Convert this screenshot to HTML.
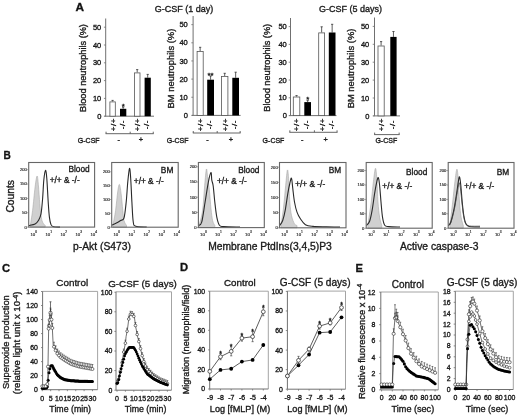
<!DOCTYPE html>
<html><head><meta charset="utf-8"><style>
html,body{margin:0;padding:0;background:#fff;}
body{width:520px;height:417px;overflow:hidden;font-family:"Liberation Sans",sans-serif;}
svg{display:block;filter:blur(0.3px);}
text{font-family:"Liberation Sans",sans-serif;stroke:#1a1a1a;stroke-width:0.34px;}
text.thin{stroke:#333;stroke-width:0.18px;}
</style></head><body>
<svg width="520" height="417" viewBox="0 0 520 417" font-family="Liberation Sans, sans-serif">
<rect x="0" y="0" width="520" height="417" fill="#fff"/>
<text transform="translate(75.4,11.3) scale(1.0,1)" font-size="11.8" font-weight="bold" fill="#111">A</text>
<text transform="translate(3.6,158.6) scale(0.86,1)" font-size="11.8" font-weight="bold" fill="#111">B</text>
<text transform="translate(2.0,271.5) scale(0.95,1)" font-size="11.8" font-weight="bold" fill="#111">C</text>
<text transform="translate(179.9,271.2) scale(0.95,1)" font-size="11.8" font-weight="bold" fill="#111">D</text>
<text transform="translate(355.4,271.5) scale(0.95,1)" font-size="11.8" font-weight="bold" fill="#111">E</text>
<text x="184.00" y="11.80" font-size="9.0" text-anchor="middle" fill="#1a1a1a" >G-CSF (1 day)</text>
<text x="350.40" y="12.00" font-size="9.0" text-anchor="middle" fill="#1a1a1a" >G-CSF (5 days)</text>
<line x1="105.70" y1="18.50" x2="105.70" y2="116.20" stroke="#707070" stroke-width="1"/>
<line x1="104.50" y1="116.20" x2="154.00" y2="116.20" stroke="#707070" stroke-width="1"/>
<line x1="103.90" y1="116.20" x2="105.70" y2="116.20" stroke="#707070" stroke-width="0.8"/>
<text x="101.30" y="118.80" font-size="7.5" text-anchor="end" fill="#1a1a1a" >0</text>
<line x1="103.90" y1="98.40" x2="105.70" y2="98.40" stroke="#707070" stroke-width="0.8"/>
<text x="101.30" y="101.00" font-size="7.5" text-anchor="end" fill="#1a1a1a" >10</text>
<line x1="103.90" y1="80.60" x2="105.70" y2="80.60" stroke="#707070" stroke-width="0.8"/>
<text x="101.30" y="83.20" font-size="7.5" text-anchor="end" fill="#1a1a1a" >20</text>
<line x1="103.90" y1="62.80" x2="105.70" y2="62.80" stroke="#707070" stroke-width="0.8"/>
<text x="101.30" y="65.40" font-size="7.5" text-anchor="end" fill="#1a1a1a" >30</text>
<line x1="103.90" y1="45.00" x2="105.70" y2="45.00" stroke="#707070" stroke-width="0.8"/>
<text x="101.30" y="47.60" font-size="7.5" text-anchor="end" fill="#1a1a1a" >40</text>
<line x1="103.90" y1="27.20" x2="105.70" y2="27.20" stroke="#707070" stroke-width="0.8"/>
<text x="101.30" y="29.80" font-size="7.5" text-anchor="end" fill="#1a1a1a" >50</text>
<text transform="translate(85.60,68.00) rotate(-90)" font-size="9.2" text-anchor="middle" fill="#1a1a1a">Blood neutrophils (%)</text>
<line x1="112.60" y1="101.50" x2="112.60" y2="100.40" stroke="#333" stroke-width="0.8"/>
<line x1="111.50" y1="100.40" x2="113.70" y2="100.40" stroke="#333" stroke-width="0.8"/>
<rect x="109.90" y="101.90" width="5.40" height="14.30" fill="#fff" stroke="#555" stroke-width="0.8"/>
<line x1="123.15" y1="108.80" x2="123.15" y2="107.20" stroke="#333" stroke-width="0.8"/>
<line x1="122.05" y1="107.20" x2="124.25" y2="107.20" stroke="#333" stroke-width="0.8"/>
<rect x="120.00" y="108.80" width="6.30" height="7.40" fill="#000"/>
<text x="123.15" y="108.80" font-size="7.8" text-anchor="middle" fill="#111" >*</text>
<line x1="137.20" y1="72.50" x2="137.20" y2="69.60" stroke="#333" stroke-width="0.8"/>
<line x1="136.10" y1="69.60" x2="138.30" y2="69.60" stroke="#333" stroke-width="0.8"/>
<rect x="134.40" y="72.90" width="5.60" height="43.30" fill="#fff" stroke="#555" stroke-width="0.8"/>
<line x1="147.70" y1="77.70" x2="147.70" y2="74.40" stroke="#333" stroke-width="0.8"/>
<line x1="146.60" y1="74.40" x2="148.80" y2="74.40" stroke="#333" stroke-width="0.8"/>
<rect x="144.60" y="77.70" width="6.20" height="38.50" fill="#000"/>
<text transform="translate(115.50,124.70) rotate(-90)" font-size="8.0" letter-spacing="0.5" text-anchor="middle" fill="#1a1a1a">+/+</text>
<text transform="translate(124.65,124.70) rotate(-90)" font-size="8.0" letter-spacing="0.5" text-anchor="middle" fill="#1a1a1a">-/-</text>
<text transform="translate(140.10,124.70) rotate(-90)" font-size="8.0" letter-spacing="0.5" text-anchor="middle" fill="#1a1a1a">+/+</text>
<text transform="translate(149.20,124.70) rotate(-90)" font-size="8.0" letter-spacing="0.5" text-anchor="middle" fill="#1a1a1a">-/-</text>
<line x1="105.60" y1="133.70" x2="153.70" y2="133.70" stroke="#555" stroke-width="0.9"/>
<line x1="106.05" y1="133.70" x2="106.05" y2="131.70" stroke="#555" stroke-width="0.9"/>
<line x1="153.25" y1="133.70" x2="153.25" y2="131.70" stroke="#555" stroke-width="0.9"/>
<line x1="130.20" y1="133.70" x2="130.20" y2="131.70" stroke="#555" stroke-width="0.9"/>
<text x="99.60" y="142.70" font-size="7.0" text-anchor="end" fill="#1a1a1a" >G-CSF</text>
<text x="118.70" y="142.40" font-size="7.4" text-anchor="middle" fill="#1a1a1a" >-</text>
<text x="140.80" y="142.40" font-size="7.4" text-anchor="middle" fill="#1a1a1a" >+</text>
<line x1="193.10" y1="16.00" x2="193.10" y2="115.40" stroke="#707070" stroke-width="1"/>
<line x1="191.90" y1="115.40" x2="240.60" y2="115.40" stroke="#707070" stroke-width="1"/>
<line x1="191.30" y1="115.40" x2="193.10" y2="115.40" stroke="#707070" stroke-width="0.8"/>
<text x="187.80" y="118.00" font-size="7.5" text-anchor="end" fill="#1a1a1a" >0</text>
<line x1="191.30" y1="97.25" x2="193.10" y2="97.25" stroke="#707070" stroke-width="0.8"/>
<text x="187.80" y="99.85" font-size="7.5" text-anchor="end" fill="#1a1a1a" >10</text>
<line x1="191.30" y1="79.10" x2="193.10" y2="79.10" stroke="#707070" stroke-width="0.8"/>
<text x="187.80" y="81.70" font-size="7.5" text-anchor="end" fill="#1a1a1a" >20</text>
<line x1="191.30" y1="60.95" x2="193.10" y2="60.95" stroke="#707070" stroke-width="0.8"/>
<text x="187.80" y="63.55" font-size="7.5" text-anchor="end" fill="#1a1a1a" >30</text>
<line x1="191.30" y1="42.80" x2="193.10" y2="42.80" stroke="#707070" stroke-width="0.8"/>
<text x="187.80" y="45.40" font-size="7.5" text-anchor="end" fill="#1a1a1a" >40</text>
<line x1="191.30" y1="24.65" x2="193.10" y2="24.65" stroke="#707070" stroke-width="0.8"/>
<text x="187.80" y="27.25" font-size="7.5" text-anchor="end" fill="#1a1a1a" >50</text>
<text transform="translate(173.80,68.60) rotate(-90)" font-size="9.4" text-anchor="middle" fill="#1a1a1a">BM neutrophils (%)</text>
<line x1="200.15" y1="51.10" x2="200.15" y2="47.30" stroke="#333" stroke-width="0.8"/>
<line x1="199.05" y1="47.30" x2="201.25" y2="47.30" stroke="#333" stroke-width="0.8"/>
<rect x="197.10" y="51.50" width="6.10" height="63.90" fill="#fff" stroke="#555" stroke-width="0.8"/>
<line x1="210.60" y1="79.70" x2="210.60" y2="76.00" stroke="#333" stroke-width="0.8"/>
<line x1="209.50" y1="76.00" x2="211.70" y2="76.00" stroke="#333" stroke-width="0.8"/>
<rect x="207.20" y="79.70" width="6.80" height="35.70" fill="#000"/>
<text x="210.60" y="77.60" font-size="7.8" text-anchor="middle" fill="#111" >**</text>
<line x1="224.70" y1="76.00" x2="224.70" y2="73.30" stroke="#333" stroke-width="0.8"/>
<line x1="223.60" y1="73.30" x2="225.80" y2="73.30" stroke="#333" stroke-width="0.8"/>
<rect x="221.50" y="76.40" width="6.40" height="39.00" fill="#fff" stroke="#555" stroke-width="0.8"/>
<line x1="235.65" y1="77.80" x2="235.65" y2="72.20" stroke="#333" stroke-width="0.8"/>
<line x1="234.55" y1="72.20" x2="236.75" y2="72.20" stroke="#333" stroke-width="0.8"/>
<rect x="232.30" y="77.80" width="6.70" height="37.60" fill="#000"/>
<text transform="translate(203.05,124.70) rotate(-90)" font-size="8.0" letter-spacing="0.5" text-anchor="middle" fill="#1a1a1a">+/+</text>
<text transform="translate(212.10,124.70) rotate(-90)" font-size="8.0" letter-spacing="0.5" text-anchor="middle" fill="#1a1a1a">-/-</text>
<text transform="translate(227.60,124.70) rotate(-90)" font-size="8.0" letter-spacing="0.5" text-anchor="middle" fill="#1a1a1a">+/+</text>
<text transform="translate(237.15,124.70) rotate(-90)" font-size="8.0" letter-spacing="0.5" text-anchor="middle" fill="#1a1a1a">-/-</text>
<line x1="192.80" y1="133.00" x2="240.60" y2="133.00" stroke="#555" stroke-width="0.9"/>
<line x1="193.25" y1="133.00" x2="193.25" y2="131.00" stroke="#555" stroke-width="0.9"/>
<line x1="240.15" y1="133.00" x2="240.15" y2="131.00" stroke="#555" stroke-width="0.9"/>
<line x1="217.20" y1="133.00" x2="217.20" y2="131.00" stroke="#555" stroke-width="0.9"/>
<text x="188.50" y="142.70" font-size="7.0" text-anchor="end" fill="#1a1a1a" >G-CSF</text>
<text x="207.60" y="142.40" font-size="7.4" text-anchor="middle" fill="#1a1a1a" >-</text>
<text x="230.90" y="142.40" font-size="7.4" text-anchor="middle" fill="#1a1a1a" >+</text>
<line x1="290.50" y1="18.00" x2="290.50" y2="115.60" stroke="#707070" stroke-width="1"/>
<line x1="289.30" y1="115.60" x2="336.50" y2="115.60" stroke="#707070" stroke-width="1"/>
<line x1="288.70" y1="115.60" x2="290.50" y2="115.60" stroke="#707070" stroke-width="0.8"/>
<text x="286.80" y="118.20" font-size="7.5" text-anchor="end" fill="#1a1a1a" >0</text>
<line x1="288.70" y1="97.80" x2="290.50" y2="97.80" stroke="#707070" stroke-width="0.8"/>
<text x="286.80" y="100.40" font-size="7.5" text-anchor="end" fill="#1a1a1a" >10</text>
<line x1="288.70" y1="80.00" x2="290.50" y2="80.00" stroke="#707070" stroke-width="0.8"/>
<text x="286.80" y="82.60" font-size="7.5" text-anchor="end" fill="#1a1a1a" >20</text>
<line x1="288.70" y1="62.20" x2="290.50" y2="62.20" stroke="#707070" stroke-width="0.8"/>
<text x="286.80" y="64.80" font-size="7.5" text-anchor="end" fill="#1a1a1a" >30</text>
<line x1="288.70" y1="44.40" x2="290.50" y2="44.40" stroke="#707070" stroke-width="0.8"/>
<text x="286.80" y="47.00" font-size="7.5" text-anchor="end" fill="#1a1a1a" >40</text>
<line x1="288.70" y1="26.60" x2="290.50" y2="26.60" stroke="#707070" stroke-width="0.8"/>
<text x="286.80" y="29.20" font-size="7.5" text-anchor="end" fill="#1a1a1a" >50</text>
<text transform="translate(270.30,67.80) rotate(-90)" font-size="9.2" text-anchor="middle" fill="#1a1a1a">Blood neutrophils (%)</text>
<line x1="296.55" y1="96.60" x2="296.55" y2="95.60" stroke="#333" stroke-width="0.8"/>
<line x1="295.45" y1="95.60" x2="297.65" y2="95.60" stroke="#333" stroke-width="0.8"/>
<rect x="293.30" y="97.00" width="6.50" height="18.60" fill="#fff" stroke="#555" stroke-width="0.8"/>
<line x1="307.65" y1="102.10" x2="307.65" y2="100.60" stroke="#333" stroke-width="0.8"/>
<line x1="306.55" y1="100.60" x2="308.75" y2="100.60" stroke="#333" stroke-width="0.8"/>
<rect x="304.30" y="102.10" width="6.70" height="13.50" fill="#000"/>
<text x="307.65" y="102.20" font-size="7.8" text-anchor="middle" fill="#111" >*</text>
<line x1="321.65" y1="32.50" x2="321.65" y2="26.80" stroke="#333" stroke-width="0.8"/>
<line x1="320.55" y1="26.80" x2="322.75" y2="26.80" stroke="#333" stroke-width="0.8"/>
<rect x="318.70" y="32.90" width="5.90" height="82.70" fill="#fff" stroke="#555" stroke-width="0.8"/>
<line x1="332.15" y1="32.50" x2="332.15" y2="24.30" stroke="#333" stroke-width="0.8"/>
<line x1="331.05" y1="24.30" x2="333.25" y2="24.30" stroke="#333" stroke-width="0.8"/>
<rect x="328.80" y="32.50" width="6.70" height="83.10" fill="#000"/>
<text transform="translate(299.45,124.70) rotate(-90)" font-size="8.0" letter-spacing="0.5" text-anchor="middle" fill="#1a1a1a">+/+</text>
<text transform="translate(309.15,124.70) rotate(-90)" font-size="8.0" letter-spacing="0.5" text-anchor="middle" fill="#1a1a1a">-/-</text>
<text transform="translate(324.55,124.70) rotate(-90)" font-size="8.0" letter-spacing="0.5" text-anchor="middle" fill="#1a1a1a">+/+</text>
<text transform="translate(333.65,124.70) rotate(-90)" font-size="8.0" letter-spacing="0.5" text-anchor="middle" fill="#1a1a1a">-/-</text>
<line x1="289.40" y1="132.30" x2="337.50" y2="132.30" stroke="#555" stroke-width="0.9"/>
<line x1="289.85" y1="132.30" x2="289.85" y2="130.30" stroke="#555" stroke-width="0.9"/>
<line x1="337.05" y1="132.30" x2="337.05" y2="130.30" stroke="#555" stroke-width="0.9"/>
<line x1="314.40" y1="132.30" x2="314.40" y2="130.30" stroke="#555" stroke-width="0.9"/>
<text x="284.40" y="142.70" font-size="7.0" text-anchor="end" fill="#1a1a1a" >G-CSF</text>
<text x="302.30" y="142.40" font-size="7.4" text-anchor="middle" fill="#1a1a1a" >-</text>
<text x="325.60" y="142.40" font-size="7.4" text-anchor="middle" fill="#1a1a1a" >+</text>
<line x1="374.50" y1="17.50" x2="374.50" y2="115.90" stroke="#707070" stroke-width="1"/>
<line x1="373.30" y1="115.90" x2="400.00" y2="115.90" stroke="#707070" stroke-width="1"/>
<line x1="372.70" y1="115.90" x2="374.50" y2="115.90" stroke="#707070" stroke-width="0.8"/>
<text x="369.30" y="118.50" font-size="7.5" text-anchor="end" fill="#1a1a1a" >0</text>
<line x1="372.70" y1="98.00" x2="374.50" y2="98.00" stroke="#707070" stroke-width="0.8"/>
<text x="369.30" y="100.60" font-size="7.5" text-anchor="end" fill="#1a1a1a" >10</text>
<line x1="372.70" y1="80.10" x2="374.50" y2="80.10" stroke="#707070" stroke-width="0.8"/>
<text x="369.30" y="82.70" font-size="7.5" text-anchor="end" fill="#1a1a1a" >20</text>
<line x1="372.70" y1="62.20" x2="374.50" y2="62.20" stroke="#707070" stroke-width="0.8"/>
<text x="369.30" y="64.80" font-size="7.5" text-anchor="end" fill="#1a1a1a" >30</text>
<line x1="372.70" y1="44.30" x2="374.50" y2="44.30" stroke="#707070" stroke-width="0.8"/>
<text x="369.30" y="46.90" font-size="7.5" text-anchor="end" fill="#1a1a1a" >40</text>
<line x1="372.70" y1="26.40" x2="374.50" y2="26.40" stroke="#707070" stroke-width="0.8"/>
<text x="369.30" y="29.00" font-size="7.5" text-anchor="end" fill="#1a1a1a" >50</text>
<text transform="translate(354.00,68.50) rotate(-90)" font-size="9.4" text-anchor="middle" fill="#1a1a1a">BM neutrophils (%)</text>
<line x1="381.10" y1="45.60" x2="381.10" y2="41.60" stroke="#333" stroke-width="0.8"/>
<line x1="380.00" y1="41.60" x2="382.20" y2="41.60" stroke="#333" stroke-width="0.8"/>
<rect x="378.00" y="46.00" width="6.20" height="69.90" fill="#fff" stroke="#555" stroke-width="0.8"/>
<line x1="393.45" y1="36.90" x2="393.45" y2="31.50" stroke="#333" stroke-width="0.8"/>
<line x1="392.35" y1="31.50" x2="394.55" y2="31.50" stroke="#333" stroke-width="0.8"/>
<rect x="390.30" y="36.90" width="6.30" height="79.00" fill="#000"/>
<text transform="translate(384.00,124.70) rotate(-90)" font-size="8.0" letter-spacing="0.5" text-anchor="middle" fill="#1a1a1a">+/+</text>
<text transform="translate(394.95,124.70) rotate(-90)" font-size="8.0" letter-spacing="0.5" text-anchor="middle" fill="#1a1a1a">-/-</text>
<line x1="374.20" y1="134.60" x2="399.60" y2="134.60" stroke="#555" stroke-width="0.9"/>
<line x1="374.65" y1="134.60" x2="374.65" y2="132.60" stroke="#555" stroke-width="0.9"/>
<line x1="399.15" y1="134.60" x2="399.15" y2="132.60" stroke="#555" stroke-width="0.9"/>
<text x="386.30" y="142.70" font-size="7.0" text-anchor="middle" fill="#1a1a1a" >G-CSF</text>
<text transform="translate(13.50,196.30) rotate(-90)" font-size="10.3" text-anchor="middle" fill="#1a1a1a">Counts</text>
<path d="M30.40,225.00 C30.77,222.57 31.82,216.75 32.60,210.40 C33.38,204.05 34.35,192.63 35.10,186.90 C35.85,181.17 36.55,176.28 37.10,176.00 C37.65,175.72 37.95,180.58 38.40,185.20 C38.85,189.82 39.37,198.65 39.80,203.70 C40.23,208.75 40.53,212.42 41.00,215.50 C41.47,218.58 41.90,220.53 42.60,222.20 C43.30,223.87 44.77,224.95 45.20,225.50 L45.20,227.10 L30.40,227.10 Z" fill="#d0d0d0" stroke="#a8a8a8" stroke-width="0.6"/>
<path d="M28.90,225.50 C29.93,225.23 33.52,224.73 35.10,223.90 C36.68,223.07 37.42,222.18 38.40,220.50 C39.38,218.82 40.30,217.43 41.00,213.80 C41.70,210.17 42.13,204.30 42.60,198.70 C43.07,193.10 43.32,184.92 43.80,180.20 C44.28,175.48 45.00,170.68 45.50,170.40 C46.00,170.12 46.35,173.23 46.80,178.50 C47.25,183.77 47.77,195.57 48.20,202.00 C48.63,208.43 48.93,213.33 49.40,217.10 C49.87,220.87 50.30,222.98 51.00,224.60 C51.70,226.22 52.10,226.38 53.60,226.80 C55.10,227.22 58.93,227.05 60.00,227.10" fill="none" stroke="#2a2a2a" stroke-width="1.1"/>
<rect x="28.70" y="162.50" width="65.90" height="64.60" fill="none" stroke="#666" stroke-width="1.1"/>
<line x1="27.10" y1="227.10" x2="28.70" y2="227.10" stroke="#777" stroke-width="0.7"/>
<text x="26.90" y="228.50" font-size="4.1" text-anchor="end" fill="#333" class="thin">0</text>
<line x1="27.10" y1="212.75" x2="28.70" y2="212.75" stroke="#777" stroke-width="0.7"/>
<text x="26.90" y="214.15" font-size="4.1" text-anchor="end" fill="#333" class="thin">50</text>
<line x1="27.10" y1="198.40" x2="28.70" y2="198.40" stroke="#777" stroke-width="0.7"/>
<text x="26.90" y="199.80" font-size="4.1" text-anchor="end" fill="#333" class="thin">100</text>
<line x1="27.10" y1="184.05" x2="28.70" y2="184.05" stroke="#777" stroke-width="0.7"/>
<text x="26.90" y="185.45" font-size="4.1" text-anchor="end" fill="#333" class="thin">150</text>
<line x1="27.10" y1="169.70" x2="28.70" y2="169.70" stroke="#777" stroke-width="0.7"/>
<text x="26.90" y="171.10" font-size="4.1" text-anchor="end" fill="#333" class="thin">200</text>
<text class="thin" x="30.40" y="236.00" font-size="4.4" fill="#333">10<tspan dy="-2.8" font-size="3.3">0</tspan></text>
<text class="thin" x="45.40" y="236.00" font-size="4.4" fill="#333">10<tspan dy="-2.8" font-size="3.3">1</tspan></text>
<text class="thin" x="60.40" y="236.00" font-size="4.4" fill="#333">10<tspan dy="-2.8" font-size="3.3">2</tspan></text>
<text class="thin" x="75.40" y="236.00" font-size="4.4" fill="#333">10<tspan dy="-2.8" font-size="3.3">3</tspan></text>
<text class="thin" x="90.40" y="236.00" font-size="4.4" fill="#333">10<tspan dy="-2.8" font-size="3.3">4</tspan></text>
<text x="89.70" y="172.10" font-size="8.3" text-anchor="end" fill="#1a1a1a" >Blood</text>
<text x="49.70" y="183.20" font-size="8.3" text-anchor="start" fill="#1a1a1a" >+/+ &amp; -/-</text>
<path d="M113.00,225.00 C113.43,222.57 114.82,215.92 115.60,210.40 C116.38,204.88 117.07,196.23 117.70,191.90 C118.33,187.57 118.83,184.12 119.40,184.40 C119.97,184.68 120.53,189.27 121.10,193.60 C121.67,197.93 122.32,205.92 122.80,210.40 C123.28,214.88 123.38,217.98 124.00,220.50 C124.62,223.02 126.08,224.67 126.50,225.50 L126.50,227.20 L113.00,227.20 Z" fill="#d0d0d0" stroke="#a8a8a8" stroke-width="0.6"/>
<path d="M111.90,225.00 C112.65,224.67 114.95,223.75 116.40,223.00 C117.85,222.25 119.33,221.33 120.60,220.50 C121.87,219.67 123.07,221.08 124.00,218.00 C124.93,214.92 125.57,208.03 126.20,202.00 C126.83,195.97 127.25,187.40 127.80,181.80 C128.35,176.20 129.02,168.95 129.50,168.40 C129.98,167.85 130.30,172.90 130.70,178.50 C131.10,184.10 131.48,194.83 131.90,202.00 C132.32,209.17 132.57,217.45 133.20,221.50 C133.83,225.55 133.45,225.38 135.70,226.30 C137.95,227.22 144.87,226.88 146.70,227.00" fill="none" stroke="#2a2a2a" stroke-width="1.1"/>
<rect x="111.70" y="162.50" width="66.50" height="64.70" fill="none" stroke="#666" stroke-width="1.1"/>
<line x1="110.10" y1="227.20" x2="111.70" y2="227.20" stroke="#777" stroke-width="0.7"/>
<text x="109.90" y="228.60" font-size="4.1" text-anchor="end" fill="#333" class="thin">0</text>
<line x1="110.10" y1="213.35" x2="111.70" y2="213.35" stroke="#777" stroke-width="0.7"/>
<text x="109.90" y="214.75" font-size="4.1" text-anchor="end" fill="#333" class="thin">50</text>
<line x1="110.10" y1="199.50" x2="111.70" y2="199.50" stroke="#777" stroke-width="0.7"/>
<text x="109.90" y="200.90" font-size="4.1" text-anchor="end" fill="#333" class="thin">100</text>
<line x1="110.10" y1="185.65" x2="111.70" y2="185.65" stroke="#777" stroke-width="0.7"/>
<text x="109.90" y="187.05" font-size="4.1" text-anchor="end" fill="#333" class="thin">150</text>
<line x1="110.10" y1="171.80" x2="111.70" y2="171.80" stroke="#777" stroke-width="0.7"/>
<text x="109.90" y="173.20" font-size="4.1" text-anchor="end" fill="#333" class="thin">200</text>
<text class="thin" x="113.40" y="236.00" font-size="4.4" fill="#333">10<tspan dy="-2.8" font-size="3.3">0</tspan></text>
<text class="thin" x="128.40" y="236.00" font-size="4.4" fill="#333">10<tspan dy="-2.8" font-size="3.3">1</tspan></text>
<text class="thin" x="143.40" y="236.00" font-size="4.4" fill="#333">10<tspan dy="-2.8" font-size="3.3">2</tspan></text>
<text class="thin" x="158.40" y="236.00" font-size="4.4" fill="#333">10<tspan dy="-2.8" font-size="3.3">3</tspan></text>
<text class="thin" x="173.40" y="236.00" font-size="4.4" fill="#333">10<tspan dy="-2.8" font-size="3.3">4</tspan></text>
<text x="173.30" y="172.50" font-size="8.3" text-anchor="end" fill="#1a1a1a" >BM</text>
<text x="133.80" y="183.70" font-size="8.3" text-anchor="start" fill="#1a1a1a" >+/+ &amp; -/-</text>
<path d="M199.20,225.00 C199.77,222.57 201.68,217.03 202.60,210.40 C203.52,203.77 204.07,192.07 204.70,185.20 C205.33,178.33 205.92,170.60 206.40,169.20 C206.88,167.80 207.12,173.43 207.60,176.80 C208.08,180.17 208.73,184.08 209.30,189.40 C209.87,194.72 210.45,203.52 211.00,208.70 C211.55,213.88 211.97,217.70 212.60,220.50 C213.23,223.30 214.43,224.67 214.80,225.50 L214.80,227.60 L199.20,227.60 Z" fill="#d0d0d0" stroke="#a8a8a8" stroke-width="0.6"/>
<path d="M198.60,225.50 C199.12,224.95 200.62,226.12 201.70,222.20 C202.78,218.28 203.98,208.73 205.10,202.00 C206.22,195.27 207.42,186.70 208.40,181.80 C209.38,176.90 210.43,172.87 211.00,172.60 C211.57,172.33 211.43,177.97 211.80,180.20 C212.17,182.43 212.70,182.37 213.20,186.00 C213.70,189.63 214.20,196.82 214.80,202.00 C215.40,207.18 216.03,213.23 216.80,217.10 C217.57,220.97 218.27,223.62 219.40,225.20 C220.53,226.78 220.17,226.30 223.60,226.60 C227.03,226.90 237.27,226.93 240.00,227.00" fill="none" stroke="#2a2a2a" stroke-width="1.1"/>
<rect x="198.40" y="162.50" width="65.90" height="65.10" fill="none" stroke="#666" stroke-width="1.1"/>
<line x1="196.80" y1="227.60" x2="198.40" y2="227.60" stroke="#777" stroke-width="0.7"/>
<text x="196.60" y="229.00" font-size="4.1" text-anchor="end" fill="#333" class="thin">0</text>
<line x1="196.80" y1="212.40" x2="198.40" y2="212.40" stroke="#777" stroke-width="0.7"/>
<text x="196.60" y="213.80" font-size="4.1" text-anchor="end" fill="#333" class="thin">50</text>
<line x1="196.80" y1="197.20" x2="198.40" y2="197.20" stroke="#777" stroke-width="0.7"/>
<text x="196.60" y="198.60" font-size="4.1" text-anchor="end" fill="#333" class="thin">100</text>
<line x1="196.80" y1="182.00" x2="198.40" y2="182.00" stroke="#777" stroke-width="0.7"/>
<text x="196.60" y="183.40" font-size="4.1" text-anchor="end" fill="#333" class="thin">150</text>
<line x1="196.80" y1="166.80" x2="198.40" y2="166.80" stroke="#777" stroke-width="0.7"/>
<text x="196.60" y="168.20" font-size="4.1" text-anchor="end" fill="#333" class="thin">200</text>
<text class="thin" x="200.10" y="236.00" font-size="4.4" fill="#333">10<tspan dy="-2.8" font-size="3.3">0</tspan></text>
<text class="thin" x="215.10" y="236.00" font-size="4.4" fill="#333">10<tspan dy="-2.8" font-size="3.3">1</tspan></text>
<text class="thin" x="230.10" y="236.00" font-size="4.4" fill="#333">10<tspan dy="-2.8" font-size="3.3">2</tspan></text>
<text class="thin" x="245.10" y="236.00" font-size="4.4" fill="#333">10<tspan dy="-2.8" font-size="3.3">3</tspan></text>
<text class="thin" x="260.10" y="236.00" font-size="4.4" fill="#333">10<tspan dy="-2.8" font-size="3.3">4</tspan></text>
<text x="259.40" y="172.80" font-size="8.3" text-anchor="end" fill="#1a1a1a" >Blood</text>
<text x="216.90" y="183.70" font-size="8.3" text-anchor="start" fill="#1a1a1a" >+/+ &amp; -/-</text>
<path d="M281.00,225.00 C281.43,222.00 282.82,213.63 283.60,207.00 C284.38,200.37 285.07,191.35 285.70,185.20 C286.33,179.05 286.92,171.22 287.40,170.10 C287.88,168.98 288.20,173.18 288.60,178.50 C289.00,183.82 289.32,195.83 289.80,202.00 C290.28,208.17 290.72,211.85 291.50,215.50 C292.28,219.15 293.58,222.23 294.50,223.90 C295.42,225.57 296.58,225.23 297.00,225.50 L297.00,227.80 L281.00,227.80 Z" fill="#d0d0d0" stroke="#a8a8a8" stroke-width="0.6"/>
<path d="M279.70,225.50 C280.20,224.67 281.78,223.02 282.70,220.50 C283.62,217.98 284.35,214.88 285.20,210.40 C286.05,205.92 287.03,198.08 287.80,193.60 C288.57,189.12 289.18,186.07 289.80,183.50 C290.42,180.93 291.00,177.35 291.50,178.20 C292.00,179.05 292.30,184.63 292.80,188.60 C293.30,192.57 293.80,198.08 294.50,202.00 C295.20,205.92 296.02,209.30 297.00,212.10 C297.98,214.90 299.00,216.70 300.40,218.80 C301.80,220.90 303.30,223.43 305.40,224.70 C307.50,225.97 309.50,226.03 313.00,226.40 C316.50,226.77 321.90,226.78 326.40,226.90 C330.90,227.02 337.73,227.07 340.00,227.10" fill="none" stroke="#2a2a2a" stroke-width="1.1"/>
<rect x="279.50" y="162.50" width="66.50" height="65.30" fill="none" stroke="#666" stroke-width="1.1"/>
<line x1="277.90" y1="227.80" x2="279.50" y2="227.80" stroke="#777" stroke-width="0.7"/>
<text x="277.70" y="229.20" font-size="4.1" text-anchor="end" fill="#333" class="thin">0</text>
<line x1="277.90" y1="212.65" x2="279.50" y2="212.65" stroke="#777" stroke-width="0.7"/>
<text x="277.70" y="214.05" font-size="4.1" text-anchor="end" fill="#333" class="thin">50</text>
<line x1="277.90" y1="197.50" x2="279.50" y2="197.50" stroke="#777" stroke-width="0.7"/>
<text x="277.70" y="198.90" font-size="4.1" text-anchor="end" fill="#333" class="thin">100</text>
<line x1="277.90" y1="182.35" x2="279.50" y2="182.35" stroke="#777" stroke-width="0.7"/>
<text x="277.70" y="183.75" font-size="4.1" text-anchor="end" fill="#333" class="thin">150</text>
<line x1="277.90" y1="167.20" x2="279.50" y2="167.20" stroke="#777" stroke-width="0.7"/>
<text x="277.70" y="168.60" font-size="4.1" text-anchor="end" fill="#333" class="thin">200</text>
<text class="thin" x="281.20" y="236.00" font-size="4.4" fill="#333">10<tspan dy="-2.8" font-size="3.3">0</tspan></text>
<text class="thin" x="296.20" y="236.00" font-size="4.4" fill="#333">10<tspan dy="-2.8" font-size="3.3">1</tspan></text>
<text class="thin" x="311.20" y="236.00" font-size="4.4" fill="#333">10<tspan dy="-2.8" font-size="3.3">2</tspan></text>
<text class="thin" x="326.20" y="236.00" font-size="4.4" fill="#333">10<tspan dy="-2.8" font-size="3.3">3</tspan></text>
<text class="thin" x="341.20" y="236.00" font-size="4.4" fill="#333">10<tspan dy="-2.8" font-size="3.3">4</tspan></text>
<text x="341.10" y="173.40" font-size="8.3" text-anchor="end" fill="#1a1a1a" >BM</text>
<text x="295.20" y="187.10" font-size="8.3" text-anchor="start" fill="#1a1a1a" >+/+ &amp; -/-</text>
<path d="M367.90,225.00 C368.45,221.17 370.28,209.20 371.20,202.00 C372.12,194.80 372.70,187.40 373.40,181.80 C374.10,176.20 374.83,168.95 375.40,168.40 C375.97,167.85 376.37,172.90 376.80,178.50 C377.23,184.10 377.53,195.57 378.00,202.00 C378.47,208.43 378.97,213.18 379.60,217.10 C380.23,221.02 381.43,224.10 381.80,225.50 L381.80,228.20 L367.90,228.20 Z" fill="#d0d0d0" stroke="#a8a8a8" stroke-width="0.6"/>
<path d="M366.40,225.50 C366.93,224.80 368.65,223.82 369.60,221.30 C370.55,218.78 371.27,215.02 372.10,210.40 C372.93,205.78 373.82,198.37 374.60,193.60 C375.38,188.83 376.18,184.47 376.80,181.80 C377.42,179.13 377.83,177.03 378.30,177.60 C378.77,178.17 379.15,181.13 379.60,185.20 C380.05,189.27 380.52,196.68 381.00,202.00 C381.48,207.32 381.88,213.23 382.50,217.10 C383.12,220.97 383.63,223.62 384.70,225.20 C385.77,226.78 386.35,226.30 388.90,226.60 C391.45,226.90 398.15,226.93 400.00,227.00" fill="none" stroke="#2a2a2a" stroke-width="1.1"/>
<rect x="366.20" y="162.50" width="66.00" height="65.70" fill="none" stroke="#666" stroke-width="1.1"/>
<line x1="364.60" y1="228.20" x2="366.20" y2="228.20" stroke="#777" stroke-width="0.7"/>
<text x="364.40" y="229.60" font-size="4.1" text-anchor="end" fill="#333" class="thin">0</text>
<line x1="364.60" y1="213.80" x2="366.20" y2="213.80" stroke="#777" stroke-width="0.7"/>
<text x="364.40" y="215.20" font-size="4.1" text-anchor="end" fill="#333" class="thin">50</text>
<line x1="364.60" y1="199.40" x2="366.20" y2="199.40" stroke="#777" stroke-width="0.7"/>
<text x="364.40" y="200.80" font-size="4.1" text-anchor="end" fill="#333" class="thin">100</text>
<line x1="364.60" y1="185.00" x2="366.20" y2="185.00" stroke="#777" stroke-width="0.7"/>
<text x="364.40" y="186.40" font-size="4.1" text-anchor="end" fill="#333" class="thin">150</text>
<line x1="364.60" y1="170.60" x2="366.20" y2="170.60" stroke="#777" stroke-width="0.7"/>
<text x="364.40" y="172.00" font-size="4.1" text-anchor="end" fill="#333" class="thin">200</text>
<text class="thin" x="367.90" y="236.00" font-size="4.4" fill="#333">10<tspan dy="-2.8" font-size="3.3">0</tspan></text>
<text class="thin" x="382.90" y="236.00" font-size="4.4" fill="#333">10<tspan dy="-2.8" font-size="3.3">1</tspan></text>
<text class="thin" x="397.90" y="236.00" font-size="4.4" fill="#333">10<tspan dy="-2.8" font-size="3.3">2</tspan></text>
<text class="thin" x="412.90" y="236.00" font-size="4.4" fill="#333">10<tspan dy="-2.8" font-size="3.3">3</tspan></text>
<text class="thin" x="427.90" y="236.00" font-size="4.4" fill="#333">10<tspan dy="-2.8" font-size="3.3">4</tspan></text>
<text x="427.30" y="174.50" font-size="8.3" text-anchor="end" fill="#1a1a1a" >Blood</text>
<text x="382.30" y="188.80" font-size="8.3" text-anchor="start" fill="#1a1a1a" >+/+ &amp; -/-</text>
<path d="M449.90,225.00 C450.37,221.17 451.87,209.20 452.70,202.00 C453.53,194.80 454.20,187.27 454.90,181.80 C455.60,176.33 456.33,169.47 456.90,169.20 C457.47,168.93 457.87,174.73 458.30,180.20 C458.73,185.67 459.03,195.85 459.50,202.00 C459.97,208.15 460.47,213.18 461.10,217.10 C461.73,221.02 462.93,224.10 463.30,225.50 L463.30,228.20 L449.90,228.20 Z" fill="#d0d0d0" stroke="#a8a8a8" stroke-width="0.6"/>
<path d="M448.40,225.50 C448.78,224.95 449.75,225.00 450.70,222.20 C451.65,219.40 453.12,213.47 454.10,208.70 C455.08,203.93 455.90,198.08 456.60,193.60 C457.30,189.12 457.82,184.60 458.30,181.80 C458.78,179.00 459.08,176.23 459.50,176.80 C459.92,177.37 460.35,181.00 460.80,185.20 C461.25,189.40 461.70,196.95 462.20,202.00 C462.70,207.05 463.20,211.92 463.80,215.50 C464.40,219.08 464.90,221.67 465.80,223.50 C466.70,225.33 466.83,225.92 469.20,226.50 C471.57,227.08 478.20,226.92 480.00,227.00" fill="none" stroke="#2a2a2a" stroke-width="1.1"/>
<path d="M448.40,225.50 C448.82,225.00 449.92,225.17 450.90,222.50 C451.88,219.83 453.32,214.08 454.30,209.50 C455.28,204.92 456.13,198.92 456.80,195.00 C457.47,191.08 457.92,188.05 458.30,186.00 C458.68,183.95 458.75,182.37 459.10,182.70 C459.45,183.03 459.92,184.62 460.40,188.00 C460.88,191.38 461.47,198.33 462.00,203.00 C462.53,207.67 463.00,212.58 463.60,216.00 C464.20,219.42 464.67,221.83 465.60,223.50 C466.53,225.17 466.80,225.55 469.20,226.00 C471.60,226.45 478.20,226.17 480.00,226.20" fill="none" stroke="#444" stroke-width="0.8"/>
<rect x="448.20" y="162.50" width="65.80" height="65.70" fill="none" stroke="#666" stroke-width="1.1"/>
<line x1="446.60" y1="228.20" x2="448.20" y2="228.20" stroke="#777" stroke-width="0.7"/>
<text x="446.40" y="229.60" font-size="4.1" text-anchor="end" fill="#333" class="thin">0</text>
<line x1="446.60" y1="213.80" x2="448.20" y2="213.80" stroke="#777" stroke-width="0.7"/>
<text x="446.40" y="215.20" font-size="4.1" text-anchor="end" fill="#333" class="thin">50</text>
<line x1="446.60" y1="199.40" x2="448.20" y2="199.40" stroke="#777" stroke-width="0.7"/>
<text x="446.40" y="200.80" font-size="4.1" text-anchor="end" fill="#333" class="thin">100</text>
<line x1="446.60" y1="185.00" x2="448.20" y2="185.00" stroke="#777" stroke-width="0.7"/>
<text x="446.40" y="186.40" font-size="4.1" text-anchor="end" fill="#333" class="thin">150</text>
<line x1="446.60" y1="170.60" x2="448.20" y2="170.60" stroke="#777" stroke-width="0.7"/>
<text x="446.40" y="172.00" font-size="4.1" text-anchor="end" fill="#333" class="thin">200</text>
<text class="thin" x="449.90" y="236.00" font-size="4.4" fill="#333">10<tspan dy="-2.8" font-size="3.3">0</tspan></text>
<text class="thin" x="464.90" y="236.00" font-size="4.4" fill="#333">10<tspan dy="-2.8" font-size="3.3">1</tspan></text>
<text class="thin" x="479.90" y="236.00" font-size="4.4" fill="#333">10<tspan dy="-2.8" font-size="3.3">2</tspan></text>
<text class="thin" x="494.90" y="236.00" font-size="4.4" fill="#333">10<tspan dy="-2.8" font-size="3.3">3</tspan></text>
<text class="thin" x="509.90" y="236.00" font-size="4.4" fill="#333">10<tspan dy="-2.8" font-size="3.3">4</tspan></text>
<text x="509.10" y="175.10" font-size="8.3" text-anchor="end" fill="#1a1a1a" >BM</text>
<text x="464.30" y="188.80" font-size="8.3" text-anchor="start" fill="#1a1a1a" >+/+ &amp; -/-</text>
<text x="102.00" y="250.10" font-size="10.3" text-anchor="middle" fill="#1a1a1a" >p-Akt (S473)</text>
<text x="270.00" y="250.10" font-size="10.3" text-anchor="middle" fill="#1a1a1a" >Membrane PtdIns(3,4,5)P3</text>
<text x="439.20" y="250.40" font-size="10.3" text-anchor="middle" fill="#1a1a1a" >Active caspase-3</text>
<text transform="translate(9.30,342.10) rotate(-90)" font-size="9.4" text-anchor="middle" fill="#1a1a1a">Superoxide production</text>
<text transform="translate(19.9,342.9) rotate(-90)" font-size="9.6" text-anchor="middle" fill="#1a1a1a">(relative light unit x 10<tspan dy="-2.3" font-size="7.0">-4</tspan><tspan dy="2.3">)</tspan></text>
<line x1="42.60" y1="291.40" x2="97.60" y2="291.40" stroke="#9a9a9a" stroke-width="0.9"/>
<line x1="97.60" y1="291.40" x2="97.60" y2="389.70" stroke="#9a9a9a" stroke-width="0.9"/>
<line x1="42.60" y1="291.40" x2="42.60" y2="389.70" stroke="#707070" stroke-width="1.0"/>
<line x1="42.60" y1="389.70" x2="97.60" y2="389.70" stroke="#707070" stroke-width="1.0"/>
<line x1="41.00" y1="389.70" x2="42.60" y2="389.70" stroke="#707070" stroke-width="0.8"/>
<text x="37.80" y="392.15" font-size="6.9" text-anchor="end" fill="#1a1a1a" >0</text>
<line x1="41.00" y1="375.67" x2="42.60" y2="375.67" stroke="#707070" stroke-width="0.8"/>
<text x="37.80" y="378.12" font-size="6.9" text-anchor="end" fill="#1a1a1a" >20</text>
<line x1="41.00" y1="361.64" x2="42.60" y2="361.64" stroke="#707070" stroke-width="0.8"/>
<text x="37.80" y="364.09" font-size="6.9" text-anchor="end" fill="#1a1a1a" >40</text>
<line x1="41.00" y1="347.62" x2="42.60" y2="347.62" stroke="#707070" stroke-width="0.8"/>
<text x="37.80" y="350.07" font-size="6.9" text-anchor="end" fill="#1a1a1a" >60</text>
<line x1="41.00" y1="333.59" x2="42.60" y2="333.59" stroke="#707070" stroke-width="0.8"/>
<text x="37.80" y="336.04" font-size="6.9" text-anchor="end" fill="#1a1a1a" >80</text>
<line x1="41.00" y1="319.56" x2="42.60" y2="319.56" stroke="#707070" stroke-width="0.8"/>
<text x="37.80" y="322.01" font-size="6.9" text-anchor="end" fill="#1a1a1a" >100</text>
<line x1="41.00" y1="305.53" x2="42.60" y2="305.53" stroke="#707070" stroke-width="0.8"/>
<text x="37.80" y="307.98" font-size="6.9" text-anchor="end" fill="#1a1a1a" >120</text>
<line x1="41.00" y1="291.50" x2="42.60" y2="291.50" stroke="#707070" stroke-width="0.8"/>
<text x="37.80" y="293.95" font-size="6.9" text-anchor="end" fill="#1a1a1a" >140</text>
<line x1="42.30" y1="389.70" x2="42.30" y2="391.20" stroke="#707070" stroke-width="0.8"/>
<text x="42.30" y="400.50" font-size="7.0" text-anchor="middle" fill="#1a1a1a" >0</text>
<line x1="50.66" y1="389.70" x2="50.66" y2="391.20" stroke="#707070" stroke-width="0.8"/>
<text x="50.66" y="400.50" font-size="7.0" text-anchor="middle" fill="#1a1a1a" >5</text>
<line x1="59.02" y1="389.70" x2="59.02" y2="391.20" stroke="#707070" stroke-width="0.8"/>
<text x="59.02" y="400.50" font-size="7.0" text-anchor="middle" fill="#1a1a1a" >10</text>
<line x1="67.38" y1="389.70" x2="67.38" y2="391.20" stroke="#707070" stroke-width="0.8"/>
<text x="67.38" y="400.50" font-size="7.0" text-anchor="middle" fill="#1a1a1a" >15</text>
<line x1="75.74" y1="389.70" x2="75.74" y2="391.20" stroke="#707070" stroke-width="0.8"/>
<text x="75.74" y="400.50" font-size="7.0" text-anchor="middle" fill="#1a1a1a" >20</text>
<line x1="84.10" y1="389.70" x2="84.10" y2="391.20" stroke="#707070" stroke-width="0.8"/>
<text x="84.10" y="400.50" font-size="7.0" text-anchor="middle" fill="#1a1a1a" >25</text>
<line x1="92.46" y1="389.70" x2="92.46" y2="391.20" stroke="#707070" stroke-width="0.8"/>
<text x="92.46" y="400.50" font-size="7.0" text-anchor="middle" fill="#1a1a1a" >30</text>
<text x="72.20" y="286.20" font-size="9.9" text-anchor="middle" fill="#1a1a1a" >Control</text>
<text x="70.20" y="412.20" font-size="8.8" text-anchor="middle" fill="#1a1a1a" >Time (min)</text>
<path d="M42.30,388.30 L46.48,387.95 L47.65,386.19 L48.65,374.27 L49.82,368.66 L50.83,365.57 L52.33,365.85 L54.84,370.76 L57.18,374.48 L60.36,377.57 L64.87,379.67 L71.23,380.72 L79.08,381.14 L92.46,381.49" fill="none" stroke="#333" stroke-width="0.7"/>
<circle cx="42.30" cy="388.30" r="1.5" fill="#000"/>
<circle cx="43.14" cy="388.23" r="1.5" fill="#000"/>
<circle cx="43.97" cy="388.16" r="1.5" fill="#000"/>
<circle cx="44.81" cy="388.09" r="1.5" fill="#000"/>
<circle cx="45.64" cy="388.02" r="1.5" fill="#000"/>
<circle cx="46.48" cy="387.95" r="1.5" fill="#000"/>
<circle cx="47.32" cy="386.69" r="1.5" fill="#000"/>
<circle cx="48.15" cy="380.23" r="1.5" fill="#000"/>
<circle cx="48.99" cy="372.67" r="1.5" fill="#000"/>
<circle cx="49.82" cy="368.66" r="1.5" fill="#000"/>
<circle cx="50.66" cy="366.09" r="1.5" fill="#000"/>
<circle cx="51.50" cy="365.70" r="1.5" fill="#000"/>
<circle cx="52.33" cy="365.85" r="1.5" fill="#000"/>
<circle cx="53.17" cy="367.49" r="1.5" fill="#000"/>
<circle cx="54.00" cy="369.13" r="1.5" fill="#000"/>
<circle cx="54.84" cy="370.76" r="1.5" fill="#000"/>
<circle cx="55.68" cy="372.09" r="1.5" fill="#000"/>
<circle cx="56.51" cy="373.42" r="1.5" fill="#000"/>
<circle cx="57.35" cy="374.64" r="1.5" fill="#000"/>
<circle cx="58.18" cy="375.45" r="1.5" fill="#000"/>
<circle cx="59.02" cy="376.27" r="1.5" fill="#000"/>
<circle cx="59.86" cy="377.08" r="1.5" fill="#000"/>
<circle cx="60.69" cy="377.72" r="1.5" fill="#000"/>
<circle cx="61.53" cy="378.11" r="1.5" fill="#000"/>
<circle cx="62.36" cy="378.50" r="1.5" fill="#000"/>
<circle cx="63.20" cy="378.89" r="1.5" fill="#000"/>
<circle cx="64.04" cy="379.28" r="1.5" fill="#000"/>
<circle cx="64.87" cy="379.67" r="1.5" fill="#000"/>
<circle cx="65.71" cy="379.81" r="1.5" fill="#000"/>
<circle cx="66.54" cy="379.95" r="1.5" fill="#000"/>
<circle cx="67.38" cy="380.09" r="1.5" fill="#000"/>
<circle cx="68.22" cy="380.22" r="1.5" fill="#000"/>
<circle cx="69.05" cy="380.36" r="1.5" fill="#000"/>
<circle cx="69.89" cy="380.50" r="1.5" fill="#000"/>
<circle cx="70.72" cy="380.64" r="1.5" fill="#000"/>
<circle cx="71.56" cy="380.74" r="1.5" fill="#000"/>
<circle cx="72.40" cy="380.78" r="1.5" fill="#000"/>
<circle cx="73.23" cy="380.83" r="1.5" fill="#000"/>
<circle cx="74.07" cy="380.87" r="1.5" fill="#000"/>
<circle cx="74.90" cy="380.92" r="1.5" fill="#000"/>
<circle cx="75.74" cy="380.96" r="1.5" fill="#000"/>
<circle cx="76.58" cy="381.01" r="1.5" fill="#000"/>
<circle cx="77.41" cy="381.05" r="1.5" fill="#000"/>
<circle cx="78.25" cy="381.10" r="1.5" fill="#000"/>
<circle cx="79.08" cy="381.14" r="1.5" fill="#000"/>
<circle cx="79.92" cy="381.16" r="1.5" fill="#000"/>
<circle cx="80.76" cy="381.19" r="1.5" fill="#000"/>
<circle cx="81.59" cy="381.21" r="1.5" fill="#000"/>
<circle cx="82.43" cy="381.23" r="1.5" fill="#000"/>
<circle cx="83.26" cy="381.25" r="1.5" fill="#000"/>
<circle cx="84.10" cy="381.27" r="1.5" fill="#000"/>
<circle cx="84.94" cy="381.30" r="1.5" fill="#000"/>
<circle cx="85.77" cy="381.32" r="1.5" fill="#000"/>
<circle cx="86.61" cy="381.34" r="1.5" fill="#000"/>
<circle cx="87.44" cy="381.36" r="1.5" fill="#000"/>
<circle cx="88.28" cy="381.38" r="1.5" fill="#000"/>
<circle cx="89.12" cy="381.41" r="1.5" fill="#000"/>
<circle cx="89.95" cy="381.43" r="1.5" fill="#000"/>
<circle cx="90.79" cy="381.45" r="1.5" fill="#000"/>
<circle cx="91.62" cy="381.47" r="1.5" fill="#000"/>
<circle cx="92.46" cy="381.49" r="1.5" fill="#000"/>
<path d="M42.30,386.19 L46.48,386.19 L47.32,384.09 L47.82,376.09 L48.65,328.68 L50.49,312.55 L51.50,319.56 L52.33,327.98 L53.17,344.81 L55.01,349.02 L57.01,353.23 L60.36,357.08 L64.87,360.24 L71.23,364.10 L78.92,366.55 L92.46,369.01" fill="none" stroke="#333" stroke-width="0.7"/>
<circle cx="42.30" cy="386.19" r="1.5" fill="#fff" stroke="#222" stroke-width="0.6"/>
<circle cx="43.97" cy="386.19" r="1.5" fill="#fff" stroke="#222" stroke-width="0.6"/>
<circle cx="45.64" cy="386.19" r="1.5" fill="#fff" stroke="#222" stroke-width="0.6"/>
<circle cx="47.32" cy="384.09" r="1.5" fill="#fff" stroke="#222" stroke-width="0.6"/>
<line x1="48.99" y1="325.75" x2="48.99" y2="321.25" stroke="#333" stroke-width="0.6"/>
<line x1="48.09" y1="321.25" x2="49.89" y2="321.25" stroke="#333" stroke-width="0.6"/>
<circle cx="48.99" cy="325.75" r="1.5" fill="#fff" stroke="#222" stroke-width="0.6"/>
<line x1="50.66" y1="313.71" x2="50.66" y2="309.21" stroke="#333" stroke-width="0.6"/>
<line x1="49.76" y1="309.21" x2="51.56" y2="309.21" stroke="#333" stroke-width="0.6"/>
<circle cx="50.66" cy="313.71" r="1.5" fill="#fff" stroke="#222" stroke-width="0.6"/>
<line x1="52.33" y1="327.98" x2="52.33" y2="323.48" stroke="#333" stroke-width="0.6"/>
<line x1="51.43" y1="323.48" x2="53.23" y2="323.48" stroke="#333" stroke-width="0.6"/>
<circle cx="52.33" cy="327.98" r="1.5" fill="#fff" stroke="#222" stroke-width="0.6"/>
<line x1="54.00" y1="346.72" x2="54.00" y2="342.22" stroke="#333" stroke-width="0.6"/>
<line x1="53.10" y1="342.22" x2="54.90" y2="342.22" stroke="#333" stroke-width="0.6"/>
<circle cx="54.00" cy="346.72" r="1.5" fill="#fff" stroke="#222" stroke-width="0.6"/>
<line x1="55.68" y1="350.42" x2="55.68" y2="345.92" stroke="#333" stroke-width="0.6"/>
<line x1="54.78" y1="345.92" x2="56.58" y2="345.92" stroke="#333" stroke-width="0.6"/>
<circle cx="55.68" cy="350.42" r="1.5" fill="#fff" stroke="#222" stroke-width="0.6"/>
<line x1="57.35" y1="353.61" x2="57.35" y2="349.11" stroke="#333" stroke-width="0.6"/>
<line x1="56.45" y1="349.11" x2="58.25" y2="349.11" stroke="#333" stroke-width="0.6"/>
<circle cx="57.35" cy="353.61" r="1.5" fill="#fff" stroke="#222" stroke-width="0.6"/>
<line x1="59.02" y1="355.54" x2="59.02" y2="351.04" stroke="#333" stroke-width="0.6"/>
<line x1="58.12" y1="351.04" x2="59.92" y2="351.04" stroke="#333" stroke-width="0.6"/>
<circle cx="59.02" cy="355.54" r="1.5" fill="#fff" stroke="#222" stroke-width="0.6"/>
<line x1="60.69" y1="357.32" x2="60.69" y2="352.82" stroke="#333" stroke-width="0.6"/>
<line x1="59.79" y1="352.82" x2="61.59" y2="352.82" stroke="#333" stroke-width="0.6"/>
<circle cx="60.69" cy="357.32" r="1.5" fill="#fff" stroke="#222" stroke-width="0.6"/>
<line x1="62.36" y1="358.49" x2="62.36" y2="353.99" stroke="#333" stroke-width="0.6"/>
<line x1="61.46" y1="353.99" x2="63.26" y2="353.99" stroke="#333" stroke-width="0.6"/>
<circle cx="62.36" cy="358.49" r="1.5" fill="#fff" stroke="#222" stroke-width="0.6"/>
<line x1="64.04" y1="359.66" x2="64.04" y2="355.16" stroke="#333" stroke-width="0.6"/>
<line x1="63.14" y1="355.16" x2="64.94" y2="355.16" stroke="#333" stroke-width="0.6"/>
<circle cx="64.04" cy="359.66" r="1.5" fill="#fff" stroke="#222" stroke-width="0.6"/>
<line x1="65.71" y1="360.75" x2="65.71" y2="356.25" stroke="#333" stroke-width="0.6"/>
<line x1="64.81" y1="356.25" x2="66.61" y2="356.25" stroke="#333" stroke-width="0.6"/>
<circle cx="65.71" cy="360.75" r="1.5" fill="#fff" stroke="#222" stroke-width="0.6"/>
<line x1="67.38" y1="361.76" x2="67.38" y2="357.26" stroke="#333" stroke-width="0.6"/>
<line x1="66.48" y1="357.26" x2="68.28" y2="357.26" stroke="#333" stroke-width="0.6"/>
<circle cx="67.38" cy="361.76" r="1.5" fill="#fff" stroke="#222" stroke-width="0.6"/>
<line x1="69.05" y1="362.78" x2="69.05" y2="358.28" stroke="#333" stroke-width="0.6"/>
<line x1="68.15" y1="358.28" x2="69.95" y2="358.28" stroke="#333" stroke-width="0.6"/>
<circle cx="69.05" cy="362.78" r="1.5" fill="#fff" stroke="#222" stroke-width="0.6"/>
<line x1="70.72" y1="363.79" x2="70.72" y2="359.29" stroke="#333" stroke-width="0.6"/>
<line x1="69.82" y1="359.29" x2="71.62" y2="359.29" stroke="#333" stroke-width="0.6"/>
<circle cx="70.72" cy="363.79" r="1.5" fill="#fff" stroke="#222" stroke-width="0.6"/>
<line x1="72.40" y1="364.47" x2="72.40" y2="359.97" stroke="#333" stroke-width="0.6"/>
<line x1="71.50" y1="359.97" x2="73.30" y2="359.97" stroke="#333" stroke-width="0.6"/>
<circle cx="72.40" cy="364.47" r="1.5" fill="#fff" stroke="#222" stroke-width="0.6"/>
<line x1="74.07" y1="365.01" x2="74.07" y2="360.51" stroke="#333" stroke-width="0.6"/>
<line x1="73.17" y1="360.51" x2="74.97" y2="360.51" stroke="#333" stroke-width="0.6"/>
<circle cx="74.07" cy="365.01" r="1.5" fill="#fff" stroke="#222" stroke-width="0.6"/>
<line x1="75.74" y1="365.54" x2="75.74" y2="361.04" stroke="#333" stroke-width="0.6"/>
<line x1="74.84" y1="361.04" x2="76.64" y2="361.04" stroke="#333" stroke-width="0.6"/>
<circle cx="75.74" cy="365.54" r="1.5" fill="#fff" stroke="#222" stroke-width="0.6"/>
<line x1="77.41" y1="366.07" x2="77.41" y2="361.57" stroke="#333" stroke-width="0.6"/>
<line x1="76.51" y1="361.57" x2="78.31" y2="361.57" stroke="#333" stroke-width="0.6"/>
<circle cx="77.41" cy="366.07" r="1.5" fill="#fff" stroke="#222" stroke-width="0.6"/>
<line x1="79.08" y1="366.58" x2="79.08" y2="362.08" stroke="#333" stroke-width="0.6"/>
<line x1="78.18" y1="362.08" x2="79.98" y2="362.08" stroke="#333" stroke-width="0.6"/>
<circle cx="79.08" cy="366.58" r="1.5" fill="#fff" stroke="#222" stroke-width="0.6"/>
<line x1="80.76" y1="366.89" x2="80.76" y2="362.39" stroke="#333" stroke-width="0.6"/>
<line x1="79.86" y1="362.39" x2="81.66" y2="362.39" stroke="#333" stroke-width="0.6"/>
<circle cx="80.76" cy="366.89" r="1.5" fill="#fff" stroke="#222" stroke-width="0.6"/>
<line x1="82.43" y1="367.19" x2="82.43" y2="362.69" stroke="#333" stroke-width="0.6"/>
<line x1="81.53" y1="362.69" x2="83.33" y2="362.69" stroke="#333" stroke-width="0.6"/>
<circle cx="82.43" cy="367.19" r="1.5" fill="#fff" stroke="#222" stroke-width="0.6"/>
<line x1="84.10" y1="367.49" x2="84.10" y2="362.99" stroke="#333" stroke-width="0.6"/>
<line x1="83.20" y1="362.99" x2="85.00" y2="362.99" stroke="#333" stroke-width="0.6"/>
<circle cx="84.10" cy="367.49" r="1.5" fill="#fff" stroke="#222" stroke-width="0.6"/>
<line x1="85.77" y1="367.80" x2="85.77" y2="363.30" stroke="#333" stroke-width="0.6"/>
<line x1="84.87" y1="363.30" x2="86.67" y2="363.30" stroke="#333" stroke-width="0.6"/>
<circle cx="85.77" cy="367.80" r="1.5" fill="#fff" stroke="#222" stroke-width="0.6"/>
<line x1="87.44" y1="368.10" x2="87.44" y2="363.60" stroke="#333" stroke-width="0.6"/>
<line x1="86.54" y1="363.60" x2="88.34" y2="363.60" stroke="#333" stroke-width="0.6"/>
<circle cx="87.44" cy="368.10" r="1.5" fill="#fff" stroke="#222" stroke-width="0.6"/>
<line x1="89.12" y1="368.40" x2="89.12" y2="363.90" stroke="#333" stroke-width="0.6"/>
<line x1="88.22" y1="363.90" x2="90.02" y2="363.90" stroke="#333" stroke-width="0.6"/>
<circle cx="89.12" cy="368.40" r="1.5" fill="#fff" stroke="#222" stroke-width="0.6"/>
<line x1="90.79" y1="368.71" x2="90.79" y2="364.21" stroke="#333" stroke-width="0.6"/>
<line x1="89.89" y1="364.21" x2="91.69" y2="364.21" stroke="#333" stroke-width="0.6"/>
<circle cx="90.79" cy="368.71" r="1.5" fill="#fff" stroke="#222" stroke-width="0.6"/>
<line x1="92.46" y1="369.01" x2="92.46" y2="364.51" stroke="#333" stroke-width="0.6"/>
<line x1="91.56" y1="364.51" x2="93.36" y2="364.51" stroke="#333" stroke-width="0.6"/>
<circle cx="92.46" cy="369.01" r="1.5" fill="#fff" stroke="#222" stroke-width="0.6"/>
<circle cx="47.98" cy="366.61" r="1.5" fill="#fff" stroke="#222" stroke-width="0.6"/>
<line x1="48.65" y1="328.68" x2="48.65" y2="324.18" stroke="#333" stroke-width="0.6"/>
<line x1="47.75" y1="324.18" x2="49.55" y2="324.18" stroke="#333" stroke-width="0.6"/>
<circle cx="48.65" cy="328.68" r="1.5" fill="#fff" stroke="#222" stroke-width="0.6"/>
<line x1="49.66" y1="319.88" x2="49.66" y2="315.38" stroke="#333" stroke-width="0.6"/>
<line x1="48.76" y1="315.38" x2="50.56" y2="315.38" stroke="#333" stroke-width="0.6"/>
<circle cx="49.66" cy="319.88" r="1.5" fill="#fff" stroke="#222" stroke-width="0.6"/>
<line x1="50.49" y1="312.55" x2="50.49" y2="308.05" stroke="#333" stroke-width="0.6"/>
<line x1="49.59" y1="308.05" x2="51.39" y2="308.05" stroke="#333" stroke-width="0.6"/>
<circle cx="50.49" cy="312.55" r="1.5" fill="#fff" stroke="#222" stroke-width="0.6"/>
<line x1="51.50" y1="319.56" x2="51.50" y2="315.06" stroke="#333" stroke-width="0.6"/>
<line x1="50.60" y1="315.06" x2="52.40" y2="315.06" stroke="#333" stroke-width="0.6"/>
<circle cx="51.50" cy="319.56" r="1.5" fill="#fff" stroke="#222" stroke-width="0.6"/>
<line x1="50.49" y1="312.55" x2="50.49" y2="301.80" stroke="#333" stroke-width="0.7"/>
<line x1="49.49" y1="301.80" x2="51.49" y2="301.80" stroke="#333" stroke-width="0.7"/>
<line x1="116.00" y1="291.80" x2="171.50" y2="291.80" stroke="#9a9a9a" stroke-width="0.9"/>
<line x1="171.50" y1="291.80" x2="171.50" y2="390.20" stroke="#9a9a9a" stroke-width="0.9"/>
<line x1="116.00" y1="291.80" x2="116.00" y2="390.20" stroke="#707070" stroke-width="1.0"/>
<line x1="116.00" y1="390.20" x2="171.50" y2="390.20" stroke="#707070" stroke-width="1.0"/>
<line x1="114.40" y1="390.20" x2="116.00" y2="390.20" stroke="#707070" stroke-width="0.8"/>
<text x="112.30" y="392.65" font-size="6.9" text-anchor="end" fill="#1a1a1a" >0</text>
<line x1="114.40" y1="370.60" x2="116.00" y2="370.60" stroke="#707070" stroke-width="0.8"/>
<text x="112.30" y="373.05" font-size="6.9" text-anchor="end" fill="#1a1a1a" >20</text>
<line x1="114.40" y1="351.00" x2="116.00" y2="351.00" stroke="#707070" stroke-width="0.8"/>
<text x="112.30" y="353.45" font-size="6.9" text-anchor="end" fill="#1a1a1a" >40</text>
<line x1="114.40" y1="331.40" x2="116.00" y2="331.40" stroke="#707070" stroke-width="0.8"/>
<text x="112.30" y="333.85" font-size="6.9" text-anchor="end" fill="#1a1a1a" >60</text>
<line x1="114.40" y1="311.80" x2="116.00" y2="311.80" stroke="#707070" stroke-width="0.8"/>
<text x="112.30" y="314.25" font-size="6.9" text-anchor="end" fill="#1a1a1a" >80</text>
<line x1="114.40" y1="292.20" x2="116.00" y2="292.20" stroke="#707070" stroke-width="0.8"/>
<text x="112.30" y="294.65" font-size="6.9" text-anchor="end" fill="#1a1a1a" >100</text>
<line x1="117.00" y1="390.20" x2="117.00" y2="391.70" stroke="#707070" stroke-width="0.8"/>
<text x="117.00" y="400.50" font-size="7.0" text-anchor="middle" fill="#1a1a1a" >0</text>
<line x1="125.40" y1="390.20" x2="125.40" y2="391.70" stroke="#707070" stroke-width="0.8"/>
<text x="125.40" y="400.50" font-size="7.0" text-anchor="middle" fill="#1a1a1a" >5</text>
<line x1="133.80" y1="390.20" x2="133.80" y2="391.70" stroke="#707070" stroke-width="0.8"/>
<text x="133.80" y="400.50" font-size="7.0" text-anchor="middle" fill="#1a1a1a" >10</text>
<line x1="142.20" y1="390.20" x2="142.20" y2="391.70" stroke="#707070" stroke-width="0.8"/>
<text x="142.20" y="400.50" font-size="7.0" text-anchor="middle" fill="#1a1a1a" >15</text>
<line x1="150.60" y1="390.20" x2="150.60" y2="391.70" stroke="#707070" stroke-width="0.8"/>
<text x="150.60" y="400.50" font-size="7.0" text-anchor="middle" fill="#1a1a1a" >20</text>
<line x1="159.00" y1="390.20" x2="159.00" y2="391.70" stroke="#707070" stroke-width="0.8"/>
<text x="159.00" y="400.50" font-size="7.0" text-anchor="middle" fill="#1a1a1a" >25</text>
<line x1="167.40" y1="390.20" x2="167.40" y2="391.70" stroke="#707070" stroke-width="0.8"/>
<text x="167.40" y="400.50" font-size="7.0" text-anchor="middle" fill="#1a1a1a" >30</text>
<text x="142.50" y="286.60" font-size="9.8" text-anchor="middle" fill="#1a1a1a" >G-CSF (5 days)</text>
<text x="145.50" y="412.20" font-size="8.8" text-anchor="middle" fill="#1a1a1a" >Time (min)</text>
<path d="M117.00,383.44 L118.01,382.65 L121.70,364.72 L123.89,351.00 L125.40,343.16 L126.07,336.69 L127.58,328.46 L128.93,317.68 L130.44,314.25 L132.96,314.74 L134.47,317.68 L135.48,325.52 L137.50,336.30 L139.51,344.14 L141.70,353.94 L144.38,363.25 L147.07,369.62 L153.62,376.48 L160.34,380.79 L167.40,383.54" fill="none" stroke="#333" stroke-width="0.7"/>
<line x1="117.00" y1="383.44" x2="117.00" y2="380.44" stroke="#333" stroke-width="0.6"/>
<line x1="116.10" y1="380.44" x2="117.90" y2="380.44" stroke="#333" stroke-width="0.6"/>
<circle cx="117.00" cy="383.44" r="1.35" fill="#fff" stroke="#222" stroke-width="0.6"/>
<line x1="118.68" y1="379.39" x2="118.68" y2="376.39" stroke="#333" stroke-width="0.6"/>
<line x1="117.78" y1="376.39" x2="119.58" y2="376.39" stroke="#333" stroke-width="0.6"/>
<circle cx="118.68" cy="379.39" r="1.35" fill="#fff" stroke="#222" stroke-width="0.6"/>
<line x1="120.36" y1="371.24" x2="120.36" y2="368.24" stroke="#333" stroke-width="0.6"/>
<line x1="119.46" y1="368.24" x2="121.26" y2="368.24" stroke="#333" stroke-width="0.6"/>
<circle cx="120.36" cy="371.24" r="1.35" fill="#fff" stroke="#222" stroke-width="0.6"/>
<line x1="122.04" y1="362.61" x2="122.04" y2="359.61" stroke="#333" stroke-width="0.6"/>
<line x1="121.14" y1="359.61" x2="122.94" y2="359.61" stroke="#333" stroke-width="0.6"/>
<circle cx="122.04" cy="362.61" r="1.35" fill="#fff" stroke="#222" stroke-width="0.6"/>
<line x1="123.72" y1="352.06" x2="123.72" y2="349.06" stroke="#333" stroke-width="0.6"/>
<line x1="122.82" y1="349.06" x2="124.62" y2="349.06" stroke="#333" stroke-width="0.6"/>
<circle cx="123.72" cy="352.06" r="1.35" fill="#fff" stroke="#222" stroke-width="0.6"/>
<line x1="125.40" y1="343.16" x2="125.40" y2="340.16" stroke="#333" stroke-width="0.6"/>
<line x1="124.50" y1="340.16" x2="126.30" y2="340.16" stroke="#333" stroke-width="0.6"/>
<circle cx="125.40" cy="343.16" r="1.35" fill="#fff" stroke="#222" stroke-width="0.6"/>
<line x1="127.08" y1="331.20" x2="127.08" y2="328.20" stroke="#333" stroke-width="0.6"/>
<line x1="126.18" y1="328.20" x2="127.98" y2="328.20" stroke="#333" stroke-width="0.6"/>
<circle cx="127.08" cy="331.20" r="1.35" fill="#fff" stroke="#222" stroke-width="0.6"/>
<line x1="128.76" y1="319.03" x2="128.76" y2="316.03" stroke="#333" stroke-width="0.6"/>
<line x1="127.86" y1="316.03" x2="129.66" y2="316.03" stroke="#333" stroke-width="0.6"/>
<circle cx="128.76" cy="319.03" r="1.35" fill="#fff" stroke="#222" stroke-width="0.6"/>
<line x1="130.44" y1="314.25" x2="130.44" y2="311.25" stroke="#333" stroke-width="0.6"/>
<line x1="129.54" y1="311.25" x2="131.34" y2="311.25" stroke="#333" stroke-width="0.6"/>
<circle cx="130.44" cy="314.25" r="1.35" fill="#fff" stroke="#222" stroke-width="0.6"/>
<line x1="132.12" y1="314.58" x2="132.12" y2="311.58" stroke="#333" stroke-width="0.6"/>
<line x1="131.22" y1="311.58" x2="133.02" y2="311.58" stroke="#333" stroke-width="0.6"/>
<circle cx="132.12" cy="314.58" r="1.35" fill="#fff" stroke="#222" stroke-width="0.6"/>
<line x1="133.80" y1="316.37" x2="133.80" y2="313.37" stroke="#333" stroke-width="0.6"/>
<line x1="132.90" y1="313.37" x2="134.70" y2="313.37" stroke="#333" stroke-width="0.6"/>
<circle cx="133.80" cy="316.37" r="1.35" fill="#fff" stroke="#222" stroke-width="0.6"/>
<line x1="135.48" y1="325.52" x2="135.48" y2="322.52" stroke="#333" stroke-width="0.6"/>
<line x1="134.58" y1="322.52" x2="136.38" y2="322.52" stroke="#333" stroke-width="0.6"/>
<circle cx="135.48" cy="325.52" r="1.35" fill="#fff" stroke="#222" stroke-width="0.6"/>
<line x1="137.16" y1="334.50" x2="137.16" y2="331.50" stroke="#333" stroke-width="0.6"/>
<line x1="136.26" y1="331.50" x2="138.06" y2="331.50" stroke="#333" stroke-width="0.6"/>
<circle cx="137.16" cy="334.50" r="1.35" fill="#fff" stroke="#222" stroke-width="0.6"/>
<line x1="138.84" y1="341.53" x2="138.84" y2="338.53" stroke="#333" stroke-width="0.6"/>
<line x1="137.94" y1="338.53" x2="139.74" y2="338.53" stroke="#333" stroke-width="0.6"/>
<circle cx="138.84" cy="341.53" r="1.35" fill="#fff" stroke="#222" stroke-width="0.6"/>
<line x1="140.52" y1="348.66" x2="140.52" y2="345.66" stroke="#333" stroke-width="0.6"/>
<line x1="139.62" y1="345.66" x2="141.42" y2="345.66" stroke="#333" stroke-width="0.6"/>
<circle cx="140.52" cy="348.66" r="1.35" fill="#fff" stroke="#222" stroke-width="0.6"/>
<line x1="142.20" y1="355.69" x2="142.20" y2="352.69" stroke="#333" stroke-width="0.6"/>
<line x1="141.30" y1="352.69" x2="143.10" y2="352.69" stroke="#333" stroke-width="0.6"/>
<circle cx="142.20" cy="355.69" r="1.35" fill="#fff" stroke="#222" stroke-width="0.6"/>
<line x1="143.88" y1="361.50" x2="143.88" y2="358.50" stroke="#333" stroke-width="0.6"/>
<line x1="142.98" y1="358.50" x2="144.78" y2="358.50" stroke="#333" stroke-width="0.6"/>
<circle cx="143.88" cy="361.50" r="1.35" fill="#fff" stroke="#222" stroke-width="0.6"/>
<line x1="145.56" y1="366.04" x2="145.56" y2="363.04" stroke="#333" stroke-width="0.6"/>
<line x1="144.66" y1="363.04" x2="146.46" y2="363.04" stroke="#333" stroke-width="0.6"/>
<circle cx="145.56" cy="366.04" r="1.35" fill="#fff" stroke="#222" stroke-width="0.6"/>
<line x1="147.24" y1="369.80" x2="147.24" y2="366.80" stroke="#333" stroke-width="0.6"/>
<line x1="146.34" y1="366.80" x2="148.14" y2="366.80" stroke="#333" stroke-width="0.6"/>
<circle cx="147.24" cy="369.80" r="1.35" fill="#fff" stroke="#222" stroke-width="0.6"/>
<line x1="148.92" y1="371.55" x2="148.92" y2="368.55" stroke="#333" stroke-width="0.6"/>
<line x1="148.02" y1="368.55" x2="149.82" y2="368.55" stroke="#333" stroke-width="0.6"/>
<circle cx="148.92" cy="371.55" r="1.35" fill="#fff" stroke="#222" stroke-width="0.6"/>
<line x1="150.60" y1="373.31" x2="150.60" y2="370.31" stroke="#333" stroke-width="0.6"/>
<line x1="149.70" y1="370.31" x2="151.50" y2="370.31" stroke="#333" stroke-width="0.6"/>
<circle cx="150.60" cy="373.31" r="1.35" fill="#fff" stroke="#222" stroke-width="0.6"/>
<line x1="152.28" y1="375.07" x2="152.28" y2="372.07" stroke="#333" stroke-width="0.6"/>
<line x1="151.38" y1="372.07" x2="153.18" y2="372.07" stroke="#333" stroke-width="0.6"/>
<circle cx="152.28" cy="375.07" r="1.35" fill="#fff" stroke="#222" stroke-width="0.6"/>
<line x1="153.96" y1="376.70" x2="153.96" y2="373.70" stroke="#333" stroke-width="0.6"/>
<line x1="153.06" y1="373.70" x2="154.86" y2="373.70" stroke="#333" stroke-width="0.6"/>
<circle cx="153.96" cy="376.70" r="1.35" fill="#fff" stroke="#222" stroke-width="0.6"/>
<line x1="155.64" y1="377.77" x2="155.64" y2="374.77" stroke="#333" stroke-width="0.6"/>
<line x1="154.74" y1="374.77" x2="156.54" y2="374.77" stroke="#333" stroke-width="0.6"/>
<circle cx="155.64" cy="377.77" r="1.35" fill="#fff" stroke="#222" stroke-width="0.6"/>
<line x1="157.32" y1="378.85" x2="157.32" y2="375.85" stroke="#333" stroke-width="0.6"/>
<line x1="156.42" y1="375.85" x2="158.22" y2="375.85" stroke="#333" stroke-width="0.6"/>
<circle cx="157.32" cy="378.85" r="1.35" fill="#fff" stroke="#222" stroke-width="0.6"/>
<line x1="159.00" y1="379.93" x2="159.00" y2="376.93" stroke="#333" stroke-width="0.6"/>
<line x1="158.10" y1="376.93" x2="159.90" y2="376.93" stroke="#333" stroke-width="0.6"/>
<circle cx="159.00" cy="379.93" r="1.35" fill="#fff" stroke="#222" stroke-width="0.6"/>
<line x1="160.68" y1="380.92" x2="160.68" y2="377.92" stroke="#333" stroke-width="0.6"/>
<line x1="159.78" y1="377.92" x2="161.58" y2="377.92" stroke="#333" stroke-width="0.6"/>
<circle cx="160.68" cy="380.92" r="1.35" fill="#fff" stroke="#222" stroke-width="0.6"/>
<line x1="162.36" y1="381.58" x2="162.36" y2="378.58" stroke="#333" stroke-width="0.6"/>
<line x1="161.46" y1="378.58" x2="163.26" y2="378.58" stroke="#333" stroke-width="0.6"/>
<circle cx="162.36" cy="381.58" r="1.35" fill="#fff" stroke="#222" stroke-width="0.6"/>
<line x1="164.04" y1="382.23" x2="164.04" y2="379.23" stroke="#333" stroke-width="0.6"/>
<line x1="163.14" y1="379.23" x2="164.94" y2="379.23" stroke="#333" stroke-width="0.6"/>
<circle cx="164.04" cy="382.23" r="1.35" fill="#fff" stroke="#222" stroke-width="0.6"/>
<line x1="165.72" y1="382.88" x2="165.72" y2="379.88" stroke="#333" stroke-width="0.6"/>
<line x1="164.82" y1="379.88" x2="166.62" y2="379.88" stroke="#333" stroke-width="0.6"/>
<circle cx="165.72" cy="382.88" r="1.35" fill="#fff" stroke="#222" stroke-width="0.6"/>
<line x1="167.40" y1="383.54" x2="167.40" y2="380.54" stroke="#333" stroke-width="0.6"/>
<line x1="166.50" y1="380.54" x2="168.30" y2="380.54" stroke="#333" stroke-width="0.6"/>
<circle cx="167.40" cy="383.54" r="1.35" fill="#fff" stroke="#222" stroke-width="0.6"/>
<path d="M117.00,383.44 L118.01,382.65 L120.86,370.11 L123.22,361.19 L124.73,355.21 L126.91,350.80 L129.10,347.47 L133.63,347.47 L135.82,350.80 L138.84,358.15 L141.70,364.92 L144.72,370.11 L147.07,373.93 L153.62,378.93 L160.34,382.36 L167.40,385.01" fill="none" stroke="#333" stroke-width="0.7"/>
<circle cx="117.00" cy="383.44" r="1.4" fill="#000"/>
<circle cx="117.84" cy="382.78" r="1.4" fill="#000"/>
<circle cx="118.68" cy="379.70" r="1.4" fill="#000"/>
<circle cx="119.52" cy="376.01" r="1.4" fill="#000"/>
<circle cx="120.36" cy="372.32" r="1.4" fill="#000"/>
<circle cx="121.20" cy="368.84" r="1.4" fill="#000"/>
<circle cx="122.04" cy="365.65" r="1.4" fill="#000"/>
<circle cx="122.88" cy="362.47" r="1.4" fill="#000"/>
<circle cx="123.72" cy="359.20" r="1.4" fill="#000"/>
<circle cx="124.56" cy="355.88" r="1.4" fill="#000"/>
<circle cx="125.40" cy="353.86" r="1.4" fill="#000"/>
<circle cx="126.24" cy="352.16" r="1.4" fill="#000"/>
<circle cx="127.08" cy="350.55" r="1.4" fill="#000"/>
<circle cx="127.92" cy="349.27" r="1.4" fill="#000"/>
<circle cx="128.76" cy="347.98" r="1.4" fill="#000"/>
<circle cx="129.60" cy="347.47" r="1.4" fill="#000"/>
<circle cx="130.44" cy="347.47" r="1.4" fill="#000"/>
<circle cx="131.28" cy="347.47" r="1.4" fill="#000"/>
<circle cx="132.12" cy="347.47" r="1.4" fill="#000"/>
<circle cx="132.96" cy="347.47" r="1.4" fill="#000"/>
<circle cx="133.80" cy="347.73" r="1.4" fill="#000"/>
<circle cx="134.64" cy="349.01" r="1.4" fill="#000"/>
<circle cx="135.48" cy="350.29" r="1.4" fill="#000"/>
<circle cx="136.32" cy="352.03" r="1.4" fill="#000"/>
<circle cx="137.16" cy="354.07" r="1.4" fill="#000"/>
<circle cx="138.00" cy="356.11" r="1.4" fill="#000"/>
<circle cx="138.84" cy="358.15" r="1.4" fill="#000"/>
<circle cx="139.68" cy="360.14" r="1.4" fill="#000"/>
<circle cx="140.52" cy="362.13" r="1.4" fill="#000"/>
<circle cx="141.36" cy="364.12" r="1.4" fill="#000"/>
<circle cx="142.20" cy="365.78" r="1.4" fill="#000"/>
<circle cx="143.04" cy="367.22" r="1.4" fill="#000"/>
<circle cx="143.88" cy="368.67" r="1.4" fill="#000"/>
<circle cx="144.72" cy="370.11" r="1.4" fill="#000"/>
<circle cx="145.56" cy="371.47" r="1.4" fill="#000"/>
<circle cx="146.40" cy="372.84" r="1.4" fill="#000"/>
<circle cx="147.24" cy="374.06" r="1.4" fill="#000"/>
<circle cx="148.08" cy="374.70" r="1.4" fill="#000"/>
<circle cx="148.92" cy="375.34" r="1.4" fill="#000"/>
<circle cx="149.76" cy="375.98" r="1.4" fill="#000"/>
<circle cx="150.60" cy="376.62" r="1.4" fill="#000"/>
<circle cx="151.44" cy="377.26" r="1.4" fill="#000"/>
<circle cx="152.28" cy="377.90" r="1.4" fill="#000"/>
<circle cx="153.12" cy="378.55" r="1.4" fill="#000"/>
<circle cx="153.96" cy="379.10" r="1.4" fill="#000"/>
<circle cx="154.80" cy="379.53" r="1.4" fill="#000"/>
<circle cx="155.64" cy="379.96" r="1.4" fill="#000"/>
<circle cx="156.48" cy="380.39" r="1.4" fill="#000"/>
<circle cx="157.32" cy="380.82" r="1.4" fill="#000"/>
<circle cx="158.16" cy="381.25" r="1.4" fill="#000"/>
<circle cx="159.00" cy="381.67" r="1.4" fill="#000"/>
<circle cx="159.84" cy="382.10" r="1.4" fill="#000"/>
<circle cx="160.68" cy="382.49" r="1.4" fill="#000"/>
<circle cx="161.52" cy="382.80" r="1.4" fill="#000"/>
<circle cx="162.36" cy="383.12" r="1.4" fill="#000"/>
<circle cx="163.20" cy="383.43" r="1.4" fill="#000"/>
<circle cx="164.04" cy="383.75" r="1.4" fill="#000"/>
<circle cx="164.88" cy="384.06" r="1.4" fill="#000"/>
<circle cx="165.72" cy="384.38" r="1.4" fill="#000"/>
<circle cx="166.56" cy="384.69" r="1.4" fill="#000"/>
<circle cx="167.40" cy="385.01" r="1.4" fill="#000"/>
<text transform="translate(188.70,339.50) rotate(-90)" font-size="9.1" text-anchor="middle" fill="#1a1a1a">Migration (neutrophils/field)</text>
<line x1="209.70" y1="291.20" x2="268.30" y2="291.20" stroke="#9a9a9a" stroke-width="0.9"/>
<line x1="268.30" y1="291.20" x2="268.30" y2="389.00" stroke="#9a9a9a" stroke-width="0.9"/>
<line x1="209.70" y1="291.20" x2="209.70" y2="389.00" stroke="#707070" stroke-width="1.0"/>
<line x1="209.70" y1="389.00" x2="268.30" y2="389.00" stroke="#707070" stroke-width="1.0"/>
<line x1="208.10" y1="389.00" x2="209.70" y2="389.00" stroke="#707070" stroke-width="0.8"/>
<text x="205.20" y="391.45" font-size="6.9" text-anchor="end" fill="#1a1a1a" >0</text>
<line x1="208.10" y1="369.44" x2="209.70" y2="369.44" stroke="#707070" stroke-width="0.8"/>
<text x="205.20" y="371.89" font-size="6.9" text-anchor="end" fill="#1a1a1a" >20</text>
<line x1="208.10" y1="349.88" x2="209.70" y2="349.88" stroke="#707070" stroke-width="0.8"/>
<text x="205.20" y="352.33" font-size="6.9" text-anchor="end" fill="#1a1a1a" >40</text>
<line x1="208.10" y1="330.32" x2="209.70" y2="330.32" stroke="#707070" stroke-width="0.8"/>
<text x="205.20" y="332.77" font-size="6.9" text-anchor="end" fill="#1a1a1a" >60</text>
<line x1="208.10" y1="310.76" x2="209.70" y2="310.76" stroke="#707070" stroke-width="0.8"/>
<text x="205.20" y="313.21" font-size="6.9" text-anchor="end" fill="#1a1a1a" >80</text>
<line x1="208.10" y1="291.20" x2="209.70" y2="291.20" stroke="#707070" stroke-width="0.8"/>
<text x="205.20" y="293.65" font-size="6.9" text-anchor="end" fill="#1a1a1a" >100</text>
<line x1="209.80" y1="389.00" x2="209.80" y2="390.50" stroke="#707070" stroke-width="0.8"/>
<text x="210.00" y="400.00" font-size="7.0" text-anchor="middle" fill="#1a1a1a" >-9</text>
<line x1="220.50" y1="389.00" x2="220.50" y2="390.50" stroke="#707070" stroke-width="0.8"/>
<text x="220.70" y="400.00" font-size="7.0" text-anchor="middle" fill="#1a1a1a" >-8</text>
<line x1="231.20" y1="389.00" x2="231.20" y2="390.50" stroke="#707070" stroke-width="0.8"/>
<text x="231.40" y="400.00" font-size="7.0" text-anchor="middle" fill="#1a1a1a" >-7</text>
<line x1="241.90" y1="389.00" x2="241.90" y2="390.50" stroke="#707070" stroke-width="0.8"/>
<text x="242.10" y="400.00" font-size="7.0" text-anchor="middle" fill="#1a1a1a" >-6</text>
<line x1="252.60" y1="389.00" x2="252.60" y2="390.50" stroke="#707070" stroke-width="0.8"/>
<text x="252.80" y="400.00" font-size="7.0" text-anchor="middle" fill="#1a1a1a" >-5</text>
<line x1="263.30" y1="389.00" x2="263.30" y2="390.50" stroke="#707070" stroke-width="0.8"/>
<text x="263.50" y="400.00" font-size="7.0" text-anchor="middle" fill="#1a1a1a" >-4</text>
<text x="239.80" y="286.20" font-size="9.8" text-anchor="middle" fill="#1a1a1a" >Control</text>
<text x="240.00" y="412.20" font-size="9.15" text-anchor="middle" fill="#1a1a1a" >Log [fMLP] (M)</text>
<path d="M209.80,379.22 L220.50,369.93 L231.20,368.76 L241.90,361.62 L252.60,359.95 L263.30,344.99" fill="none" stroke="#333" stroke-width="0.8"/>
<path d="M209.80,371.40 L220.50,356.73 L231.20,351.35 L241.90,338.14 L252.60,336.68 L263.30,311.74" fill="none" stroke="#333" stroke-width="0.8"/>
<circle cx="209.80" cy="379.22" r="1.9" fill="#000"/>
<circle cx="220.50" cy="369.93" r="1.9" fill="#000"/>
<circle cx="231.20" cy="368.76" r="1.9" fill="#000"/>
<circle cx="241.90" cy="361.62" r="1.9" fill="#000"/>
<circle cx="252.60" cy="359.95" r="1.9" fill="#000"/>
<circle cx="263.30" cy="344.99" r="1.9" fill="#000"/>
<circle cx="209.80" cy="371.40" r="1.9" fill="#fff" stroke="#222" stroke-width="0.7"/>
<line x1="220.50" y1="353.73" x2="220.50" y2="359.73" stroke="#333" stroke-width="0.6"/>
<line x1="219.40" y1="353.73" x2="221.60" y2="353.73" stroke="#333" stroke-width="0.6"/>
<line x1="219.40" y1="359.73" x2="221.60" y2="359.73" stroke="#333" stroke-width="0.6"/>
<circle cx="220.50" cy="356.73" r="1.9" fill="#fff" stroke="#222" stroke-width="0.7"/>
<text x="220.50" y="356.13" font-size="7.0" text-anchor="middle" fill="#1a1a1a" >*</text>
<line x1="231.20" y1="346.85" x2="231.20" y2="355.85" stroke="#333" stroke-width="0.6"/>
<line x1="230.10" y1="346.85" x2="232.30" y2="346.85" stroke="#333" stroke-width="0.6"/>
<line x1="230.10" y1="355.85" x2="232.30" y2="355.85" stroke="#333" stroke-width="0.6"/>
<circle cx="231.20" cy="351.35" r="1.9" fill="#fff" stroke="#222" stroke-width="0.7"/>
<text x="231.20" y="349.25" font-size="7.0" text-anchor="middle" fill="#1a1a1a" >*</text>
<line x1="241.90" y1="335.14" x2="241.90" y2="341.14" stroke="#333" stroke-width="0.6"/>
<line x1="240.80" y1="335.14" x2="243.00" y2="335.14" stroke="#333" stroke-width="0.6"/>
<line x1="240.80" y1="341.14" x2="243.00" y2="341.14" stroke="#333" stroke-width="0.6"/>
<circle cx="241.90" cy="338.14" r="1.9" fill="#fff" stroke="#222" stroke-width="0.7"/>
<text x="241.90" y="337.54" font-size="7.0" text-anchor="middle" fill="#1a1a1a" >*</text>
<line x1="252.60" y1="331.68" x2="252.60" y2="341.68" stroke="#333" stroke-width="0.6"/>
<line x1="251.50" y1="331.68" x2="253.70" y2="331.68" stroke="#333" stroke-width="0.6"/>
<line x1="251.50" y1="341.68" x2="253.70" y2="341.68" stroke="#333" stroke-width="0.6"/>
<circle cx="252.60" cy="336.68" r="1.9" fill="#fff" stroke="#222" stroke-width="0.7"/>
<text x="252.60" y="334.08" font-size="7.0" text-anchor="middle" fill="#1a1a1a" >*</text>
<line x1="263.30" y1="307.74" x2="263.30" y2="315.74" stroke="#333" stroke-width="0.6"/>
<line x1="262.20" y1="307.74" x2="264.40" y2="307.74" stroke="#333" stroke-width="0.6"/>
<line x1="262.20" y1="315.74" x2="264.40" y2="315.74" stroke="#333" stroke-width="0.6"/>
<circle cx="263.30" cy="311.74" r="1.9" fill="#fff" stroke="#222" stroke-width="0.7"/>
<text x="263.30" y="310.14" font-size="7.0" text-anchor="middle" fill="#1a1a1a" >*</text>
<line x1="287.40" y1="291.10" x2="345.50" y2="291.10" stroke="#9a9a9a" stroke-width="0.9"/>
<line x1="345.50" y1="291.10" x2="345.50" y2="389.20" stroke="#9a9a9a" stroke-width="0.9"/>
<line x1="287.40" y1="291.10" x2="287.40" y2="389.20" stroke="#707070" stroke-width="1.0"/>
<line x1="287.40" y1="389.20" x2="345.50" y2="389.20" stroke="#707070" stroke-width="1.0"/>
<line x1="285.80" y1="389.20" x2="287.40" y2="389.20" stroke="#707070" stroke-width="0.8"/>
<text x="282.90" y="391.65" font-size="6.9" text-anchor="end" fill="#1a1a1a" >0</text>
<line x1="285.80" y1="369.64" x2="287.40" y2="369.64" stroke="#707070" stroke-width="0.8"/>
<text x="282.90" y="372.09" font-size="6.9" text-anchor="end" fill="#1a1a1a" >20</text>
<line x1="285.80" y1="350.08" x2="287.40" y2="350.08" stroke="#707070" stroke-width="0.8"/>
<text x="282.90" y="352.53" font-size="6.9" text-anchor="end" fill="#1a1a1a" >40</text>
<line x1="285.80" y1="330.52" x2="287.40" y2="330.52" stroke="#707070" stroke-width="0.8"/>
<text x="282.90" y="332.97" font-size="6.9" text-anchor="end" fill="#1a1a1a" >60</text>
<line x1="285.80" y1="310.96" x2="287.40" y2="310.96" stroke="#707070" stroke-width="0.8"/>
<text x="282.90" y="313.41" font-size="6.9" text-anchor="end" fill="#1a1a1a" >80</text>
<line x1="285.80" y1="291.40" x2="287.40" y2="291.40" stroke="#707070" stroke-width="0.8"/>
<text x="282.90" y="293.85" font-size="6.9" text-anchor="end" fill="#1a1a1a" >100</text>
<line x1="287.40" y1="389.20" x2="287.40" y2="390.70" stroke="#707070" stroke-width="0.8"/>
<text x="287.60" y="400.00" font-size="7.0" text-anchor="middle" fill="#1a1a1a" >-9</text>
<line x1="298.50" y1="389.20" x2="298.50" y2="390.70" stroke="#707070" stroke-width="0.8"/>
<text x="298.70" y="400.00" font-size="7.0" text-anchor="middle" fill="#1a1a1a" >-8</text>
<line x1="309.10" y1="389.20" x2="309.10" y2="390.70" stroke="#707070" stroke-width="0.8"/>
<text x="309.30" y="400.00" font-size="7.0" text-anchor="middle" fill="#1a1a1a" >-7</text>
<line x1="319.60" y1="389.20" x2="319.60" y2="390.70" stroke="#707070" stroke-width="0.8"/>
<text x="319.80" y="400.00" font-size="7.0" text-anchor="middle" fill="#1a1a1a" >-6</text>
<line x1="330.20" y1="389.20" x2="330.20" y2="390.70" stroke="#707070" stroke-width="0.8"/>
<text x="330.40" y="400.00" font-size="7.0" text-anchor="middle" fill="#1a1a1a" >-5</text>
<line x1="341.50" y1="389.20" x2="341.50" y2="390.70" stroke="#707070" stroke-width="0.8"/>
<text x="341.70" y="400.00" font-size="7.0" text-anchor="middle" fill="#1a1a1a" >-4</text>
<text x="315.20" y="286.40" font-size="10.1" text-anchor="middle" fill="#1a1a1a" >G-CSF (5 days)</text>
<text x="317.45" y="412.20" font-size="9.15" text-anchor="middle" fill="#1a1a1a" >Log [fMLP] (M)</text>
<path d="M287.40,376.00 L298.50,365.24 L309.10,354.48 L319.60,332.67 L330.20,331.99 L341.50,317.32" fill="none" stroke="#333" stroke-width="0.8"/>
<path d="M287.40,376.00 L298.50,360.35 L309.10,349.10 L319.60,326.12 L330.20,322.89 L341.50,307.54" fill="none" stroke="#333" stroke-width="0.8"/>
<circle cx="287.40" cy="376.00" r="1.9" fill="#000"/>
<circle cx="298.50" cy="365.24" r="1.9" fill="#000"/>
<circle cx="309.10" cy="354.48" r="1.9" fill="#000"/>
<circle cx="319.60" cy="332.67" r="1.9" fill="#000"/>
<circle cx="330.20" cy="331.99" r="1.9" fill="#000"/>
<circle cx="341.50" cy="317.32" r="1.9" fill="#000"/>
<circle cx="287.40" cy="376.00" r="1.9" fill="#fff" stroke="#222" stroke-width="0.7"/>
<line x1="298.50" y1="356.35" x2="298.50" y2="364.35" stroke="#333" stroke-width="0.6"/>
<line x1="297.40" y1="356.35" x2="299.60" y2="356.35" stroke="#333" stroke-width="0.6"/>
<line x1="297.40" y1="364.35" x2="299.60" y2="364.35" stroke="#333" stroke-width="0.6"/>
<circle cx="298.50" cy="360.35" r="1.9" fill="#fff" stroke="#222" stroke-width="0.7"/>
<line x1="309.10" y1="347.10" x2="309.10" y2="351.10" stroke="#333" stroke-width="0.6"/>
<line x1="308.00" y1="347.10" x2="310.20" y2="347.10" stroke="#333" stroke-width="0.6"/>
<line x1="308.00" y1="351.10" x2="310.20" y2="351.10" stroke="#333" stroke-width="0.6"/>
<circle cx="309.10" cy="349.10" r="1.9" fill="#fff" stroke="#222" stroke-width="0.7"/>
<line x1="319.60" y1="323.12" x2="319.60" y2="329.12" stroke="#333" stroke-width="0.6"/>
<line x1="318.50" y1="323.12" x2="320.70" y2="323.12" stroke="#333" stroke-width="0.6"/>
<line x1="318.50" y1="329.12" x2="320.70" y2="329.12" stroke="#333" stroke-width="0.6"/>
<circle cx="319.60" cy="326.12" r="1.9" fill="#fff" stroke="#222" stroke-width="0.7"/>
<text x="319.60" y="325.52" font-size="7.0" text-anchor="middle" fill="#1a1a1a" >*</text>
<line x1="330.20" y1="320.89" x2="330.20" y2="324.89" stroke="#333" stroke-width="0.6"/>
<line x1="329.10" y1="320.89" x2="331.30" y2="320.89" stroke="#333" stroke-width="0.6"/>
<line x1="329.10" y1="324.89" x2="331.30" y2="324.89" stroke="#333" stroke-width="0.6"/>
<circle cx="330.20" cy="322.89" r="1.9" fill="#fff" stroke="#222" stroke-width="0.7"/>
<text x="330.20" y="323.29" font-size="7.0" text-anchor="middle" fill="#1a1a1a" >*</text>
<line x1="341.50" y1="304.54" x2="341.50" y2="310.54" stroke="#333" stroke-width="0.6"/>
<line x1="340.40" y1="304.54" x2="342.60" y2="304.54" stroke="#333" stroke-width="0.6"/>
<line x1="340.40" y1="310.54" x2="342.60" y2="310.54" stroke="#333" stroke-width="0.6"/>
<circle cx="341.50" cy="307.54" r="1.9" fill="#fff" stroke="#222" stroke-width="0.7"/>
<text x="341.50" y="306.94" font-size="7.0" text-anchor="middle" fill="#1a1a1a" >*</text>
<text transform="translate(364.6,341.4) rotate(-90)" font-size="9.33" text-anchor="middle" fill="#1a1a1a">Relative fluorescence x 10<tspan dy="-2.4" font-size="6.8">-4</tspan></text>
<line x1="380.80" y1="292.00" x2="438.30" y2="292.00" stroke="#9a9a9a" stroke-width="0.9"/>
<line x1="438.30" y1="292.00" x2="438.30" y2="389.90" stroke="#9a9a9a" stroke-width="0.9"/>
<line x1="380.80" y1="292.00" x2="380.80" y2="389.90" stroke="#707070" stroke-width="1.0"/>
<line x1="380.80" y1="389.90" x2="438.30" y2="389.90" stroke="#707070" stroke-width="1.0"/>
<line x1="379.20" y1="389.90" x2="380.80" y2="389.90" stroke="#707070" stroke-width="0.8"/>
<text x="375.40" y="392.35" font-size="6.9" text-anchor="end" fill="#1a1a1a" >0</text>
<line x1="379.20" y1="373.60" x2="380.80" y2="373.60" stroke="#707070" stroke-width="0.8"/>
<text x="375.40" y="376.05" font-size="6.9" text-anchor="end" fill="#1a1a1a" >2</text>
<line x1="379.20" y1="357.30" x2="380.80" y2="357.30" stroke="#707070" stroke-width="0.8"/>
<text x="375.40" y="359.75" font-size="6.9" text-anchor="end" fill="#1a1a1a" >4</text>
<line x1="379.20" y1="341.00" x2="380.80" y2="341.00" stroke="#707070" stroke-width="0.8"/>
<text x="375.40" y="343.45" font-size="6.9" text-anchor="end" fill="#1a1a1a" >6</text>
<line x1="379.20" y1="324.70" x2="380.80" y2="324.70" stroke="#707070" stroke-width="0.8"/>
<text x="375.40" y="327.15" font-size="6.9" text-anchor="end" fill="#1a1a1a" >8</text>
<line x1="379.20" y1="308.40" x2="380.80" y2="308.40" stroke="#707070" stroke-width="0.8"/>
<text x="375.40" y="310.85" font-size="6.9" text-anchor="end" fill="#1a1a1a" >10</text>
<line x1="379.20" y1="292.10" x2="380.80" y2="292.10" stroke="#707070" stroke-width="0.8"/>
<text x="375.40" y="294.55" font-size="6.9" text-anchor="end" fill="#1a1a1a" >12</text>
<line x1="381.60" y1="389.90" x2="381.60" y2="391.40" stroke="#707070" stroke-width="0.8"/>
<text x="381.60" y="400.20" font-size="6.9" text-anchor="middle" fill="#1a1a1a" >0</text>
<line x1="392.30" y1="389.90" x2="392.30" y2="391.40" stroke="#707070" stroke-width="0.8"/>
<text x="392.30" y="400.20" font-size="6.9" text-anchor="middle" fill="#1a1a1a" >20</text>
<line x1="403.00" y1="389.90" x2="403.00" y2="391.40" stroke="#707070" stroke-width="0.8"/>
<text x="403.00" y="400.20" font-size="6.9" text-anchor="middle" fill="#1a1a1a" >40</text>
<line x1="413.70" y1="389.90" x2="413.70" y2="391.40" stroke="#707070" stroke-width="0.8"/>
<text x="413.70" y="400.20" font-size="6.9" text-anchor="middle" fill="#1a1a1a" >60</text>
<line x1="424.40" y1="389.90" x2="424.40" y2="391.40" stroke="#707070" stroke-width="0.8"/>
<text x="424.40" y="400.20" font-size="6.9" text-anchor="middle" fill="#1a1a1a" >80</text>
<line x1="435.10" y1="389.90" x2="435.10" y2="391.40" stroke="#707070" stroke-width="0.8"/>
<text x="435.10" y="400.20" font-size="6.9" text-anchor="middle" fill="#1a1a1a" >100</text>
<text x="407.80" y="287.60" font-size="10.0" text-anchor="middle" fill="#1a1a1a" >Control</text>
<text x="412.90" y="412.20" font-size="9.1" text-anchor="middle" fill="#1a1a1a" >Time (sec)</text>
<path d="M381.60,386.88 L392.30,386.88 L393.37,364.88 L394.98,356.48 L399.42,356.81 L403.11,361.38 L406.26,367.89 L410.44,371.97 L416.48,376.04 L422.53,377.10 L428.68,378.82 L434.73,383.38 L435.10,383.79" fill="none" stroke="#333" stroke-width="0.7"/>
<circle cx="381.60" cy="386.88" r="1.55" fill="#000"/>
<circle cx="382.94" cy="386.88" r="1.55" fill="#000"/>
<circle cx="384.28" cy="386.88" r="1.55" fill="#000"/>
<circle cx="385.61" cy="386.88" r="1.55" fill="#000"/>
<circle cx="386.95" cy="386.88" r="1.55" fill="#000"/>
<circle cx="388.29" cy="386.88" r="1.55" fill="#000"/>
<circle cx="389.62" cy="386.88" r="1.55" fill="#000"/>
<circle cx="390.96" cy="386.88" r="1.55" fill="#000"/>
<circle cx="392.30" cy="386.88" r="1.55" fill="#000"/>
<circle cx="393.64" cy="363.48" r="1.55" fill="#000"/>
<circle cx="394.98" cy="356.48" r="1.55" fill="#000"/>
<circle cx="396.31" cy="356.58" r="1.55" fill="#000"/>
<circle cx="397.65" cy="356.68" r="1.55" fill="#000"/>
<circle cx="398.99" cy="356.78" r="1.55" fill="#000"/>
<circle cx="400.33" cy="357.94" r="1.55" fill="#000"/>
<circle cx="401.66" cy="359.59" r="1.55" fill="#000"/>
<circle cx="403.00" cy="361.24" r="1.55" fill="#000"/>
<circle cx="404.34" cy="363.92" r="1.55" fill="#000"/>
<circle cx="405.68" cy="366.68" r="1.55" fill="#000"/>
<circle cx="407.01" cy="368.63" r="1.55" fill="#000"/>
<circle cx="408.35" cy="369.93" r="1.55" fill="#000"/>
<circle cx="409.69" cy="371.24" r="1.55" fill="#000"/>
<circle cx="411.03" cy="372.37" r="1.55" fill="#000"/>
<circle cx="412.36" cy="373.27" r="1.55" fill="#000"/>
<circle cx="413.70" cy="374.17" r="1.55" fill="#000"/>
<circle cx="415.04" cy="375.07" r="1.55" fill="#000"/>
<circle cx="416.38" cy="375.97" r="1.55" fill="#000"/>
<circle cx="417.71" cy="376.26" r="1.55" fill="#000"/>
<circle cx="419.05" cy="376.50" r="1.55" fill="#000"/>
<circle cx="420.39" cy="376.73" r="1.55" fill="#000"/>
<circle cx="421.73" cy="376.96" r="1.55" fill="#000"/>
<circle cx="423.06" cy="377.25" r="1.55" fill="#000"/>
<circle cx="424.40" cy="377.63" r="1.55" fill="#000"/>
<circle cx="425.74" cy="378.00" r="1.55" fill="#000"/>
<circle cx="427.08" cy="378.37" r="1.55" fill="#000"/>
<circle cx="428.41" cy="378.74" r="1.55" fill="#000"/>
<circle cx="429.75" cy="379.62" r="1.55" fill="#000"/>
<circle cx="431.09" cy="380.63" r="1.55" fill="#000"/>
<circle cx="432.43" cy="381.64" r="1.55" fill="#000"/>
<circle cx="433.76" cy="382.65" r="1.55" fill="#000"/>
<circle cx="435.10" cy="383.79" r="1.55" fill="#000"/>
<path d="M381.60,384.52 L392.30,384.52 L393.37,336.92 L394.98,318.18 L396.05,316.55 L399.04,324.70 L400.70,327.96 L403.11,334.48 L405.57,340.19 L408.72,349.15 L411.61,354.85 L416.48,361.38 L421.35,366.26 L426.17,368.71 L433.50,371.97 L435.10,372.78" fill="none" stroke="#333" stroke-width="0.7"/>
<circle cx="381.60" cy="384.52" r="1.6" fill="#fff" stroke="#222" stroke-width="0.6"/>
<circle cx="384.28" cy="384.52" r="1.6" fill="#fff" stroke="#222" stroke-width="0.6"/>
<circle cx="386.95" cy="384.52" r="1.6" fill="#fff" stroke="#222" stroke-width="0.6"/>
<circle cx="389.62" cy="384.52" r="1.6" fill="#fff" stroke="#222" stroke-width="0.6"/>
<circle cx="392.30" cy="384.52" r="1.6" fill="#fff" stroke="#222" stroke-width="0.6"/>
<line x1="394.98" y1="318.18" x2="394.98" y2="313.18" stroke="#333" stroke-width="0.6"/>
<line x1="394.08" y1="313.18" x2="395.88" y2="313.18" stroke="#333" stroke-width="0.6"/>
<circle cx="394.98" cy="318.18" r="1.6" fill="#fff" stroke="#222" stroke-width="0.6"/>
<line x1="397.65" y1="320.92" x2="397.65" y2="315.92" stroke="#333" stroke-width="0.6"/>
<line x1="396.75" y1="315.92" x2="398.55" y2="315.92" stroke="#333" stroke-width="0.6"/>
<circle cx="397.65" cy="320.92" r="1.6" fill="#fff" stroke="#222" stroke-width="0.6"/>
<line x1="400.33" y1="327.22" x2="400.33" y2="322.22" stroke="#333" stroke-width="0.6"/>
<line x1="399.43" y1="322.22" x2="401.23" y2="322.22" stroke="#333" stroke-width="0.6"/>
<circle cx="400.33" cy="327.22" r="1.6" fill="#fff" stroke="#222" stroke-width="0.6"/>
<line x1="403.00" y1="334.19" x2="403.00" y2="329.19" stroke="#333" stroke-width="0.6"/>
<line x1="402.10" y1="329.19" x2="403.90" y2="329.19" stroke="#333" stroke-width="0.6"/>
<circle cx="403.00" cy="334.19" r="1.6" fill="#fff" stroke="#222" stroke-width="0.6"/>
<line x1="405.68" y1="340.49" x2="405.68" y2="335.49" stroke="#333" stroke-width="0.6"/>
<line x1="404.78" y1="335.49" x2="406.57" y2="335.49" stroke="#333" stroke-width="0.6"/>
<circle cx="405.68" cy="340.49" r="1.6" fill="#fff" stroke="#222" stroke-width="0.6"/>
<line x1="408.35" y1="348.09" x2="408.35" y2="343.09" stroke="#333" stroke-width="0.6"/>
<line x1="407.45" y1="343.09" x2="409.25" y2="343.09" stroke="#333" stroke-width="0.6"/>
<circle cx="408.35" cy="348.09" r="1.6" fill="#fff" stroke="#222" stroke-width="0.6"/>
<line x1="411.03" y1="353.69" x2="411.03" y2="348.69" stroke="#333" stroke-width="0.6"/>
<line x1="410.13" y1="348.69" x2="411.93" y2="348.69" stroke="#333" stroke-width="0.6"/>
<circle cx="411.03" cy="353.69" r="1.6" fill="#fff" stroke="#222" stroke-width="0.6"/>
<line x1="413.70" y1="357.65" x2="413.70" y2="352.65" stroke="#333" stroke-width="0.6"/>
<line x1="412.80" y1="352.65" x2="414.60" y2="352.65" stroke="#333" stroke-width="0.6"/>
<circle cx="413.70" cy="357.65" r="1.6" fill="#fff" stroke="#222" stroke-width="0.6"/>
<line x1="416.38" y1="361.23" x2="416.38" y2="356.23" stroke="#333" stroke-width="0.6"/>
<line x1="415.48" y1="356.23" x2="417.27" y2="356.23" stroke="#333" stroke-width="0.6"/>
<circle cx="416.38" cy="361.23" r="1.6" fill="#fff" stroke="#222" stroke-width="0.6"/>
<line x1="419.05" y1="363.95" x2="419.05" y2="358.95" stroke="#333" stroke-width="0.6"/>
<line x1="418.15" y1="358.95" x2="419.95" y2="358.95" stroke="#333" stroke-width="0.6"/>
<circle cx="419.05" cy="363.95" r="1.6" fill="#fff" stroke="#222" stroke-width="0.6"/>
<line x1="421.73" y1="366.46" x2="421.73" y2="361.46" stroke="#333" stroke-width="0.6"/>
<line x1="420.83" y1="361.46" x2="422.62" y2="361.46" stroke="#333" stroke-width="0.6"/>
<circle cx="421.73" cy="366.46" r="1.6" fill="#fff" stroke="#222" stroke-width="0.6"/>
<line x1="424.40" y1="367.81" x2="424.40" y2="362.81" stroke="#333" stroke-width="0.6"/>
<line x1="423.50" y1="362.81" x2="425.30" y2="362.81" stroke="#333" stroke-width="0.6"/>
<circle cx="424.40" cy="367.81" r="1.6" fill="#fff" stroke="#222" stroke-width="0.6"/>
<line x1="427.08" y1="369.11" x2="427.08" y2="364.11" stroke="#333" stroke-width="0.6"/>
<line x1="426.18" y1="364.11" x2="427.98" y2="364.11" stroke="#333" stroke-width="0.6"/>
<circle cx="427.08" cy="369.11" r="1.6" fill="#fff" stroke="#222" stroke-width="0.6"/>
<line x1="429.75" y1="370.30" x2="429.75" y2="365.30" stroke="#333" stroke-width="0.6"/>
<line x1="428.85" y1="365.30" x2="430.65" y2="365.30" stroke="#333" stroke-width="0.6"/>
<circle cx="429.75" cy="370.30" r="1.6" fill="#fff" stroke="#222" stroke-width="0.6"/>
<line x1="432.43" y1="371.49" x2="432.43" y2="366.49" stroke="#333" stroke-width="0.6"/>
<line x1="431.53" y1="366.49" x2="433.32" y2="366.49" stroke="#333" stroke-width="0.6"/>
<circle cx="432.43" cy="371.49" r="1.6" fill="#fff" stroke="#222" stroke-width="0.6"/>
<line x1="435.10" y1="372.78" x2="435.10" y2="367.78" stroke="#333" stroke-width="0.6"/>
<line x1="434.20" y1="367.78" x2="436.00" y2="367.78" stroke="#333" stroke-width="0.6"/>
<circle cx="435.10" cy="372.78" r="1.6" fill="#fff" stroke="#222" stroke-width="0.6"/>
<line x1="393.64" y1="333.80" x2="393.64" y2="328.80" stroke="#333" stroke-width="0.6"/>
<line x1="392.74" y1="328.80" x2="394.54" y2="328.80" stroke="#333" stroke-width="0.6"/>
<circle cx="393.64" cy="333.80" r="1.6" fill="#fff" stroke="#222" stroke-width="0.6"/>
<line x1="396.31" y1="317.28" x2="396.31" y2="312.28" stroke="#333" stroke-width="0.6"/>
<line x1="395.41" y1="312.28" x2="397.21" y2="312.28" stroke="#333" stroke-width="0.6"/>
<circle cx="396.31" cy="317.28" r="1.6" fill="#fff" stroke="#222" stroke-width="0.6"/>
<line x1="394.98" y1="318.18" x2="394.98" y2="304.73" stroke="#333" stroke-width="0.6"/>
<line x1="394.08" y1="304.73" x2="395.88" y2="304.73" stroke="#333" stroke-width="0.6"/>
<line x1="396.31" y1="317.28" x2="396.31" y2="309.21" stroke="#333" stroke-width="0.6"/>
<line x1="395.41" y1="309.21" x2="397.21" y2="309.21" stroke="#333" stroke-width="0.6"/>
<line x1="397.65" y1="320.92" x2="397.65" y2="312.47" stroke="#333" stroke-width="0.6"/>
<line x1="396.75" y1="312.47" x2="398.55" y2="312.47" stroke="#333" stroke-width="0.6"/>
<line x1="455.30" y1="291.20" x2="513.30" y2="291.20" stroke="#9a9a9a" stroke-width="0.9"/>
<line x1="513.30" y1="291.20" x2="513.30" y2="389.50" stroke="#9a9a9a" stroke-width="0.9"/>
<line x1="455.30" y1="291.20" x2="455.30" y2="389.50" stroke="#707070" stroke-width="1.0"/>
<line x1="455.30" y1="389.50" x2="513.30" y2="389.50" stroke="#707070" stroke-width="1.0"/>
<line x1="453.70" y1="389.50" x2="455.30" y2="389.50" stroke="#707070" stroke-width="0.8"/>
<text x="450.60" y="391.95" font-size="6.9" text-anchor="end" fill="#1a1a1a" >0</text>
<line x1="453.70" y1="378.60" x2="455.30" y2="378.60" stroke="#707070" stroke-width="0.8"/>
<text x="450.60" y="381.05" font-size="6.9" text-anchor="end" fill="#1a1a1a" >2</text>
<line x1="453.70" y1="367.70" x2="455.30" y2="367.70" stroke="#707070" stroke-width="0.8"/>
<text x="450.60" y="370.15" font-size="6.9" text-anchor="end" fill="#1a1a1a" >4</text>
<line x1="453.70" y1="356.80" x2="455.30" y2="356.80" stroke="#707070" stroke-width="0.8"/>
<text x="450.60" y="359.25" font-size="6.9" text-anchor="end" fill="#1a1a1a" >6</text>
<line x1="453.70" y1="345.90" x2="455.30" y2="345.90" stroke="#707070" stroke-width="0.8"/>
<text x="450.60" y="348.35" font-size="6.9" text-anchor="end" fill="#1a1a1a" >8</text>
<line x1="453.70" y1="335.00" x2="455.30" y2="335.00" stroke="#707070" stroke-width="0.8"/>
<text x="450.60" y="337.45" font-size="6.9" text-anchor="end" fill="#1a1a1a" >10</text>
<line x1="453.70" y1="324.10" x2="455.30" y2="324.10" stroke="#707070" stroke-width="0.8"/>
<text x="450.60" y="326.55" font-size="6.9" text-anchor="end" fill="#1a1a1a" >12</text>
<line x1="453.70" y1="313.20" x2="455.30" y2="313.20" stroke="#707070" stroke-width="0.8"/>
<text x="450.60" y="315.65" font-size="6.9" text-anchor="end" fill="#1a1a1a" >14</text>
<line x1="453.70" y1="302.30" x2="455.30" y2="302.30" stroke="#707070" stroke-width="0.8"/>
<text x="450.60" y="304.75" font-size="6.9" text-anchor="end" fill="#1a1a1a" >16</text>
<line x1="453.70" y1="291.40" x2="455.30" y2="291.40" stroke="#707070" stroke-width="0.8"/>
<text x="450.60" y="293.85" font-size="6.9" text-anchor="end" fill="#1a1a1a" >18</text>
<line x1="455.30" y1="389.50" x2="455.30" y2="391.00" stroke="#707070" stroke-width="0.8"/>
<text x="455.30" y="399.60" font-size="6.9" text-anchor="middle" fill="#1a1a1a" >0</text>
<line x1="466.16" y1="389.50" x2="466.16" y2="391.00" stroke="#707070" stroke-width="0.8"/>
<text x="466.16" y="399.60" font-size="6.9" text-anchor="middle" fill="#1a1a1a" >20</text>
<line x1="477.02" y1="389.50" x2="477.02" y2="391.00" stroke="#707070" stroke-width="0.8"/>
<text x="477.02" y="399.60" font-size="6.9" text-anchor="middle" fill="#1a1a1a" >40</text>
<line x1="487.88" y1="389.50" x2="487.88" y2="391.00" stroke="#707070" stroke-width="0.8"/>
<text x="487.88" y="399.60" font-size="6.9" text-anchor="middle" fill="#1a1a1a" >60</text>
<line x1="498.74" y1="389.50" x2="498.74" y2="391.00" stroke="#707070" stroke-width="0.8"/>
<text x="498.74" y="399.60" font-size="6.9" text-anchor="middle" fill="#1a1a1a" >80</text>
<line x1="509.60" y1="389.50" x2="509.60" y2="391.00" stroke="#707070" stroke-width="0.8"/>
<text x="509.60" y="399.60" font-size="6.9" text-anchor="middle" fill="#1a1a1a" >100</text>
<text x="482.00" y="286.00" font-size="10.1" text-anchor="middle" fill="#1a1a1a" >G-CSF (5 days)</text>
<text x="487.00" y="412.30" font-size="9.1" text-anchor="middle" fill="#1a1a1a" >Time (sec)</text>
<path d="M455.30,384.60 L466.16,384.60 L466.70,367.70 L467.25,345.90 L468.06,326.82 L468.88,314.29 L470.50,304.48 L472.13,300.66 L473.76,302.30 L476.31,308.30 L478.70,315.93 L481.80,329.55 L486.09,340.45 L489.78,348.08 L494.72,355.71 L498.58,360.07 L504.17,361.70 L509.60,362.25" fill="none" stroke="#333" stroke-width="0.7"/>
<circle cx="455.30" cy="384.60" r="1.6" fill="#fff" stroke="#222" stroke-width="0.6"/>
<circle cx="458.01" cy="384.60" r="1.6" fill="#fff" stroke="#222" stroke-width="0.6"/>
<circle cx="460.73" cy="384.60" r="1.6" fill="#fff" stroke="#222" stroke-width="0.6"/>
<circle cx="463.44" cy="384.60" r="1.6" fill="#fff" stroke="#222" stroke-width="0.6"/>
<circle cx="466.16" cy="384.60" r="1.6" fill="#fff" stroke="#222" stroke-width="0.6"/>
<line x1="468.88" y1="314.29" x2="468.88" y2="309.79" stroke="#333" stroke-width="0.6"/>
<line x1="467.98" y1="309.79" x2="469.77" y2="309.79" stroke="#333" stroke-width="0.6"/>
<circle cx="468.88" cy="314.29" r="1.6" fill="#fff" stroke="#222" stroke-width="0.6"/>
<line x1="471.59" y1="301.94" x2="471.59" y2="297.44" stroke="#333" stroke-width="0.6"/>
<line x1="470.69" y1="297.44" x2="472.49" y2="297.44" stroke="#333" stroke-width="0.6"/>
<circle cx="471.59" cy="301.94" r="1.6" fill="#fff" stroke="#222" stroke-width="0.6"/>
<line x1="474.31" y1="303.58" x2="474.31" y2="299.08" stroke="#333" stroke-width="0.6"/>
<line x1="473.41" y1="299.08" x2="475.20" y2="299.08" stroke="#333" stroke-width="0.6"/>
<circle cx="474.31" cy="303.58" r="1.6" fill="#fff" stroke="#222" stroke-width="0.6"/>
<line x1="477.02" y1="310.55" x2="477.02" y2="306.05" stroke="#333" stroke-width="0.6"/>
<line x1="476.12" y1="306.05" x2="477.92" y2="306.05" stroke="#333" stroke-width="0.6"/>
<circle cx="477.02" cy="310.55" r="1.6" fill="#fff" stroke="#222" stroke-width="0.6"/>
<line x1="479.74" y1="320.47" x2="479.74" y2="315.97" stroke="#333" stroke-width="0.6"/>
<line x1="478.84" y1="315.97" x2="480.63" y2="315.97" stroke="#333" stroke-width="0.6"/>
<circle cx="479.74" cy="320.47" r="1.6" fill="#fff" stroke="#222" stroke-width="0.6"/>
<line x1="482.45" y1="331.21" x2="482.45" y2="326.71" stroke="#333" stroke-width="0.6"/>
<line x1="481.55" y1="326.71" x2="483.35" y2="326.71" stroke="#333" stroke-width="0.6"/>
<circle cx="482.45" cy="331.21" r="1.6" fill="#fff" stroke="#222" stroke-width="0.6"/>
<line x1="485.17" y1="338.10" x2="485.17" y2="333.60" stroke="#333" stroke-width="0.6"/>
<line x1="484.27" y1="333.60" x2="486.06" y2="333.60" stroke="#333" stroke-width="0.6"/>
<circle cx="485.17" cy="338.10" r="1.6" fill="#fff" stroke="#222" stroke-width="0.6"/>
<line x1="487.88" y1="344.15" x2="487.88" y2="339.65" stroke="#333" stroke-width="0.6"/>
<line x1="486.98" y1="339.65" x2="488.78" y2="339.65" stroke="#333" stroke-width="0.6"/>
<circle cx="487.88" cy="344.15" r="1.6" fill="#fff" stroke="#222" stroke-width="0.6"/>
<line x1="490.60" y1="349.34" x2="490.60" y2="344.84" stroke="#333" stroke-width="0.6"/>
<line x1="489.70" y1="344.84" x2="491.50" y2="344.84" stroke="#333" stroke-width="0.6"/>
<circle cx="490.60" cy="349.34" r="1.6" fill="#fff" stroke="#222" stroke-width="0.6"/>
<line x1="493.31" y1="353.53" x2="493.31" y2="349.03" stroke="#333" stroke-width="0.6"/>
<line x1="492.41" y1="349.03" x2="494.21" y2="349.03" stroke="#333" stroke-width="0.6"/>
<circle cx="493.31" cy="353.53" r="1.6" fill="#fff" stroke="#222" stroke-width="0.6"/>
<line x1="496.03" y1="357.18" x2="496.03" y2="352.68" stroke="#333" stroke-width="0.6"/>
<line x1="495.13" y1="352.68" x2="496.93" y2="352.68" stroke="#333" stroke-width="0.6"/>
<circle cx="496.03" cy="357.18" r="1.6" fill="#fff" stroke="#222" stroke-width="0.6"/>
<line x1="498.74" y1="360.12" x2="498.74" y2="355.62" stroke="#333" stroke-width="0.6"/>
<line x1="497.84" y1="355.62" x2="499.64" y2="355.62" stroke="#333" stroke-width="0.6"/>
<circle cx="498.74" cy="360.12" r="1.6" fill="#fff" stroke="#222" stroke-width="0.6"/>
<line x1="501.46" y1="360.91" x2="501.46" y2="356.41" stroke="#333" stroke-width="0.6"/>
<line x1="500.56" y1="356.41" x2="502.36" y2="356.41" stroke="#333" stroke-width="0.6"/>
<circle cx="501.46" cy="360.91" r="1.6" fill="#fff" stroke="#222" stroke-width="0.6"/>
<line x1="504.17" y1="361.70" x2="504.17" y2="357.20" stroke="#333" stroke-width="0.6"/>
<line x1="503.27" y1="357.20" x2="505.07" y2="357.20" stroke="#333" stroke-width="0.6"/>
<circle cx="504.17" cy="361.70" r="1.6" fill="#fff" stroke="#222" stroke-width="0.6"/>
<line x1="506.88" y1="361.98" x2="506.88" y2="357.48" stroke="#333" stroke-width="0.6"/>
<line x1="505.99" y1="357.48" x2="507.78" y2="357.48" stroke="#333" stroke-width="0.6"/>
<circle cx="506.88" cy="361.98" r="1.6" fill="#fff" stroke="#222" stroke-width="0.6"/>
<line x1="509.60" y1="362.25" x2="509.60" y2="357.75" stroke="#333" stroke-width="0.6"/>
<line x1="508.70" y1="357.75" x2="510.50" y2="357.75" stroke="#333" stroke-width="0.6"/>
<circle cx="509.60" cy="362.25" r="1.6" fill="#fff" stroke="#222" stroke-width="0.6"/>
<line x1="467.52" y1="339.54" x2="467.52" y2="335.04" stroke="#333" stroke-width="0.6"/>
<line x1="466.62" y1="335.04" x2="468.42" y2="335.04" stroke="#333" stroke-width="0.6"/>
<circle cx="467.52" cy="339.54" r="1.6" fill="#fff" stroke="#222" stroke-width="0.6"/>
<line x1="470.23" y1="306.12" x2="470.23" y2="301.62" stroke="#333" stroke-width="0.6"/>
<line x1="469.33" y1="301.62" x2="471.13" y2="301.62" stroke="#333" stroke-width="0.6"/>
<circle cx="470.23" cy="306.12" r="1.6" fill="#fff" stroke="#222" stroke-width="0.6"/>
<line x1="472.95" y1="301.48" x2="472.95" y2="296.98" stroke="#333" stroke-width="0.6"/>
<line x1="472.05" y1="296.98" x2="473.85" y2="296.98" stroke="#333" stroke-width="0.6"/>
<circle cx="472.95" cy="301.48" r="1.6" fill="#fff" stroke="#222" stroke-width="0.6"/>
<path d="M455.30,385.69 L466.16,385.69 L467.25,351.35 L468.88,321.38 L471.59,312.11 L474.31,315.93 L477.02,324.10 L481.80,341.00 L485.71,350.26 L490.21,357.89 L494.40,361.16 L498.58,363.61 L504.17,366.06 L509.60,367.70" fill="none" stroke="#333" stroke-width="0.7"/>
<circle cx="468.88" cy="321.38" r="1.4" fill="#fff" stroke="#222" stroke-width="0.6"/>
<circle cx="471.59" cy="312.11" r="1.4" fill="#fff" stroke="#222" stroke-width="0.6"/>
<circle cx="474.31" cy="315.93" r="1.4" fill="#fff" stroke="#222" stroke-width="0.6"/>
<circle cx="477.02" cy="324.10" r="1.4" fill="#fff" stroke="#222" stroke-width="0.6"/>
<circle cx="479.74" cy="333.70" r="1.4" fill="#fff" stroke="#222" stroke-width="0.6"/>
<circle cx="482.45" cy="342.54" r="1.4" fill="#fff" stroke="#222" stroke-width="0.6"/>
<circle cx="485.17" cy="348.97" r="1.4" fill="#fff" stroke="#222" stroke-width="0.6"/>
<circle cx="487.88" cy="353.94" r="1.4" fill="#fff" stroke="#222" stroke-width="0.6"/>
<circle cx="490.60" cy="358.19" r="1.4" fill="#fff" stroke="#222" stroke-width="0.6"/>
<circle cx="493.31" cy="360.31" r="1.4" fill="#fff" stroke="#222" stroke-width="0.6"/>
<circle cx="496.03" cy="362.12" r="1.4" fill="#fff" stroke="#222" stroke-width="0.6"/>
<circle cx="498.74" cy="363.68" r="1.4" fill="#fff" stroke="#222" stroke-width="0.6"/>
<circle cx="501.46" cy="364.87" r="1.4" fill="#fff" stroke="#222" stroke-width="0.6"/>
<circle cx="504.17" cy="366.06" r="1.4" fill="#fff" stroke="#222" stroke-width="0.6"/>
<circle cx="506.88" cy="366.88" r="1.4" fill="#fff" stroke="#222" stroke-width="0.6"/>
<circle cx="509.60" cy="367.70" r="1.4" fill="#fff" stroke="#222" stroke-width="0.6"/>
<circle cx="467.52" cy="346.35" r="1.4" fill="#fff" stroke="#222" stroke-width="0.6"/>
<circle cx="470.23" cy="316.74" r="1.4" fill="#fff" stroke="#222" stroke-width="0.6"/>
<circle cx="472.95" cy="314.02" r="1.4" fill="#fff" stroke="#222" stroke-width="0.6"/>
<circle cx="475.66" cy="320.01" r="1.4" fill="#fff" stroke="#222" stroke-width="0.6"/>
<path d="M455.30,388.41 L466.16,388.41 L466.49,363.34 L468.22,338.81 L470.18,325.19 L471.32,324.10 L475.12,330.10 L478.70,340.45 L481.80,349.17 L485.71,356.80 L490.21,363.61 L494.40,367.15 L498.58,369.33 L504.17,370.97 L509.60,372.06" fill="none" stroke="#333" stroke-width="0.7"/>
<circle cx="455.30" cy="388.41" r="1.5" fill="#000"/>
<circle cx="456.66" cy="388.41" r="1.5" fill="#000"/>
<circle cx="458.01" cy="388.41" r="1.5" fill="#000"/>
<circle cx="459.37" cy="388.41" r="1.5" fill="#000"/>
<circle cx="460.73" cy="388.41" r="1.5" fill="#000"/>
<circle cx="462.09" cy="388.41" r="1.5" fill="#000"/>
<circle cx="463.44" cy="388.41" r="1.5" fill="#000"/>
<circle cx="464.80" cy="388.41" r="1.5" fill="#000"/>
<circle cx="466.16" cy="388.41" r="1.5" fill="#000"/>
<circle cx="467.52" cy="348.78" r="1.5" fill="#000"/>
<circle cx="468.88" cy="334.27" r="1.5" fill="#000"/>
<circle cx="470.23" cy="325.14" r="1.5" fill="#000"/>
<circle cx="471.59" cy="324.53" r="1.5" fill="#000"/>
<circle cx="472.95" cy="326.67" r="1.5" fill="#000"/>
<circle cx="474.31" cy="328.81" r="1.5" fill="#000"/>
<circle cx="475.66" cy="331.66" r="1.5" fill="#000"/>
<circle cx="477.02" cy="335.59" r="1.5" fill="#000"/>
<circle cx="478.38" cy="339.51" r="1.5" fill="#000"/>
<circle cx="479.74" cy="343.36" r="1.5" fill="#000"/>
<circle cx="481.09" cy="347.18" r="1.5" fill="#000"/>
<circle cx="482.45" cy="350.44" r="1.5" fill="#000"/>
<circle cx="483.81" cy="353.09" r="1.5" fill="#000"/>
<circle cx="485.17" cy="355.74" r="1.5" fill="#000"/>
<circle cx="486.52" cy="358.03" r="1.5" fill="#000"/>
<circle cx="487.88" cy="360.08" r="1.5" fill="#000"/>
<circle cx="489.24" cy="362.14" r="1.5" fill="#000"/>
<circle cx="490.60" cy="363.93" r="1.5" fill="#000"/>
<circle cx="491.95" cy="365.08" r="1.5" fill="#000"/>
<circle cx="493.31" cy="366.23" r="1.5" fill="#000"/>
<circle cx="494.67" cy="367.30" r="1.5" fill="#000"/>
<circle cx="496.03" cy="368.00" r="1.5" fill="#000"/>
<circle cx="497.38" cy="368.71" r="1.5" fill="#000"/>
<circle cx="498.74" cy="369.38" r="1.5" fill="#000"/>
<circle cx="500.10" cy="369.78" r="1.5" fill="#000"/>
<circle cx="501.46" cy="370.18" r="1.5" fill="#000"/>
<circle cx="502.81" cy="370.57" r="1.5" fill="#000"/>
<circle cx="504.17" cy="370.97" r="1.5" fill="#000"/>
<circle cx="505.53" cy="371.24" r="1.5" fill="#000"/>
<circle cx="506.88" cy="371.51" r="1.5" fill="#000"/>
<circle cx="508.24" cy="371.79" r="1.5" fill="#000"/>
<circle cx="509.60" cy="372.06" r="1.5" fill="#000"/>
</svg>
</body></html>
